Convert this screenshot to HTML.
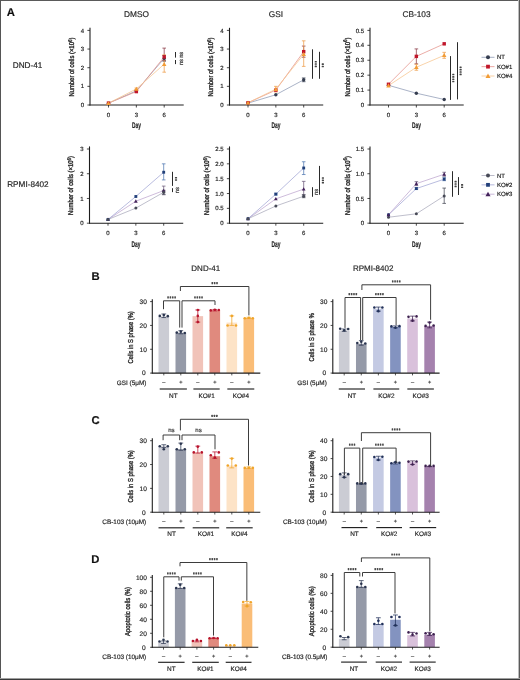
<!DOCTYPE html>
<html><head><meta charset="utf-8"><style>
html,body{margin:0;padding:0;background:#fff;width:520px;height:680px;overflow:hidden}
svg{display:block;text-rendering:geometricPrecision}
text{stroke:#2a2a2a;stroke-width:0.18px}
</style></head><body>
<svg width="520" height="680" viewBox="0 0 520 680" font-family="&quot;Liberation Sans&quot;, sans-serif">
<rect x="0" y="0" width="520" height="680" fill="#fff"/>
<defs><filter id="bl" x="-5%" y="-5%" width="110%" height="110%"><feGaussianBlur stdDeviation="0.3"/></filter></defs>
<g filter="url(#bl)">
<text x="10.80" y="12.30" dy="0.35em" font-size="11.3" text-anchor="middle" font-weight="bold" fill="#111">A</text>
<text x="95.50" y="275.70" dy="0.35em" font-size="11.3" text-anchor="middle" font-weight="bold" fill="#111">B</text>
<text x="95.60" y="419.90" dy="0.35em" font-size="11.3" text-anchor="middle" font-weight="bold" fill="#111">C</text>
<text x="95.30" y="559.20" dy="0.35em" font-size="11.3" text-anchor="middle" font-weight="bold" fill="#111">D</text>
<text x="136.50" y="14.00" dy="0.35em" font-size="8.3" text-anchor="middle" fill="#262626">DMSO</text>
<text x="276.00" y="14.00" dy="0.35em" font-size="8.3" text-anchor="middle" fill="#262626">GSI</text>
<text x="416.50" y="14.00" dy="0.35em" font-size="8.3" text-anchor="middle" fill="#262626">CB-103</text>
<text x="12.80" y="65.00" dy="0.35em" font-size="8.2" text-anchor="start" fill="#262626">DND-41</text>
<text x="7.20" y="184.40" dy="0.35em" font-size="8.2" text-anchor="start" fill="#262626">RPMI-8402</text>
<line x1="90.00" y1="27.80" x2="90.00" y2="105.50" stroke="#1e1e1e" stroke-width="1.1"/>
<line x1="87.40" y1="105.00" x2="90.00" y2="105.00" stroke="#1e1e1e" stroke-width="0.8"/>
<text x="84.00" y="105.00" dy="0.35em" font-size="6.0" text-anchor="end" fill="#262626">0</text>
<line x1="87.40" y1="86.35" x2="90.00" y2="86.35" stroke="#1e1e1e" stroke-width="0.8"/>
<text x="84.00" y="86.35" dy="0.35em" font-size="6.0" text-anchor="end" fill="#262626">1</text>
<line x1="87.40" y1="67.70" x2="90.00" y2="67.70" stroke="#1e1e1e" stroke-width="0.8"/>
<text x="84.00" y="67.70" dy="0.35em" font-size="6.0" text-anchor="end" fill="#262626">2</text>
<line x1="87.40" y1="49.05" x2="90.00" y2="49.05" stroke="#1e1e1e" stroke-width="0.8"/>
<text x="84.00" y="49.05" dy="0.35em" font-size="6.0" text-anchor="end" fill="#262626">3</text>
<line x1="87.40" y1="30.40" x2="90.00" y2="30.40" stroke="#1e1e1e" stroke-width="0.8"/>
<text x="84.00" y="30.40" dy="0.35em" font-size="6.0" text-anchor="end" fill="#262626">4</text>
<line x1="89.50" y1="105.00" x2="183.70" y2="105.00" stroke="#1e1e1e" stroke-width="1.1"/>
<line x1="108.50" y1="105.00" x2="108.50" y2="107.50" stroke="#1e1e1e" stroke-width="0.8"/>
<text x="108.50" y="114.70" dy="0.35em" font-size="6.0" text-anchor="middle" fill="#262626">0</text>
<line x1="136.35" y1="105.00" x2="136.35" y2="107.50" stroke="#1e1e1e" stroke-width="0.8"/>
<text x="136.35" y="114.70" dy="0.35em" font-size="6.0" text-anchor="middle" fill="#262626">3</text>
<line x1="164.20" y1="105.00" x2="164.20" y2="107.50" stroke="#1e1e1e" stroke-width="0.8"/>
<text x="164.20" y="114.70" dy="0.35em" font-size="6.0" text-anchor="middle" fill="#262626">6</text>
<text x="136.40" y="124.90" dy="0.35em" font-size="8.4" text-anchor="middle" font-weight="bold" fill="#222" textLength="8.9" lengthAdjust="spacingAndGlyphs">Day</text>
<text x="71.50" y="67.10" dy="0.35em" font-size="7.1" font-weight="normal" style="stroke-width:0.35px" text-anchor="middle" fill="#222" transform="rotate(-90 71.50 67.10)" textLength="59" lengthAdjust="spacingAndGlyphs">Number of cells (×10<tspan dy="-2.4" font-size="5.4">6</tspan><tspan dy="2.4">)</tspan></text>
<polyline points="108.50,103.14 136.35,90.83 164.20,58.38" fill="none" stroke="#8e9ab4" stroke-width="0.75"/>
<polyline points="108.50,103.14 136.35,91.57 164.20,56.88" fill="none" stroke="#e4918a" stroke-width="0.75"/>
<polyline points="108.50,103.14 136.35,88.96 164.20,64.16" fill="none" stroke="#f7c48e" stroke-width="0.75"/>
<line x1="164.20" y1="55.58" x2="164.20" y2="61.17" stroke="#363d4f" stroke-width="0.75"/>
<line x1="162.40" y1="55.58" x2="166.00" y2="55.58" stroke="#363d4f" stroke-width="0.75"/>
<line x1="162.40" y1="61.17" x2="166.00" y2="61.17" stroke="#363d4f" stroke-width="0.75"/>
<line x1="164.20" y1="48.12" x2="164.20" y2="60.61" stroke="#8a3a44" stroke-width="0.75"/>
<line x1="162.40" y1="48.12" x2="166.00" y2="48.12" stroke="#8a3a44" stroke-width="0.75"/>
<line x1="162.40" y1="60.61" x2="166.00" y2="60.61" stroke="#8a3a44" stroke-width="0.75"/>
<line x1="136.35" y1="88.03" x2="136.35" y2="89.89" stroke="#ee9c48" stroke-width="0.75"/>
<line x1="134.55" y1="88.03" x2="138.15" y2="88.03" stroke="#ee9c48" stroke-width="0.75"/>
<line x1="134.55" y1="89.89" x2="138.15" y2="89.89" stroke="#ee9c48" stroke-width="0.75"/>
<line x1="164.20" y1="54.83" x2="164.20" y2="72.18" stroke="#ee9c48" stroke-width="0.75"/>
<line x1="162.40" y1="54.83" x2="166.00" y2="54.83" stroke="#ee9c48" stroke-width="0.75"/>
<line x1="162.40" y1="72.18" x2="166.00" y2="72.18" stroke="#ee9c48" stroke-width="0.75"/>
<circle cx="108.50" cy="103.14" r="1.70" fill="#363d4f"/>
<circle cx="136.35" cy="90.83" r="1.70" fill="#363d4f"/>
<circle cx="164.20" cy="58.38" r="1.70" fill="#363d4f"/>
<rect x="106.79" y="101.43" width="3.42" height="3.42" fill="#c0142a"/>
<rect x="134.64" y="89.86" width="3.42" height="3.42" fill="#c0142a"/>
<rect x="162.49" y="55.17" width="3.42" height="3.42" fill="#c0142a"/>
<polygon points="108.50,100.89 110.75,104.94 106.25,104.94" fill="#f29c36"/>
<polygon points="136.35,86.71 138.60,90.76 134.10,90.76" fill="#f29c36"/>
<polygon points="164.20,61.91 166.45,65.96 161.95,65.96" fill="#f29c36"/>
<line x1="175.50" y1="52.00" x2="175.50" y2="57.60" stroke="#2a2a2a" stroke-width="1.0"/>
<text x="180.60" y="54.80" dy="0.35em" font-size="5.8" text-anchor="middle" fill="#333" transform="rotate(-90 180.60 54.80)">ns</text>
<line x1="175.50" y1="60.00" x2="175.50" y2="64.10" stroke="#2a2a2a" stroke-width="1.0"/>
<text x="180.60" y="62.05" dy="0.35em" font-size="5.8" text-anchor="middle" fill="#333" transform="rotate(-90 180.60 62.05)">ns</text>
<line x1="229.50" y1="27.80" x2="229.50" y2="105.50" stroke="#1e1e1e" stroke-width="1.1"/>
<line x1="226.90" y1="105.00" x2="229.50" y2="105.00" stroke="#1e1e1e" stroke-width="0.8"/>
<text x="223.50" y="105.00" dy="0.35em" font-size="6.0" text-anchor="end" fill="#262626">0</text>
<line x1="226.90" y1="86.35" x2="229.50" y2="86.35" stroke="#1e1e1e" stroke-width="0.8"/>
<text x="223.50" y="86.35" dy="0.35em" font-size="6.0" text-anchor="end" fill="#262626">1</text>
<line x1="226.90" y1="67.70" x2="229.50" y2="67.70" stroke="#1e1e1e" stroke-width="0.8"/>
<text x="223.50" y="67.70" dy="0.35em" font-size="6.0" text-anchor="end" fill="#262626">2</text>
<line x1="226.90" y1="49.05" x2="229.50" y2="49.05" stroke="#1e1e1e" stroke-width="0.8"/>
<text x="223.50" y="49.05" dy="0.35em" font-size="6.0" text-anchor="end" fill="#262626">3</text>
<line x1="226.90" y1="30.40" x2="229.50" y2="30.40" stroke="#1e1e1e" stroke-width="0.8"/>
<text x="223.50" y="30.40" dy="0.35em" font-size="6.0" text-anchor="end" fill="#262626">4</text>
<line x1="229.00" y1="105.00" x2="323.20" y2="105.00" stroke="#1e1e1e" stroke-width="1.1"/>
<line x1="248.00" y1="105.00" x2="248.00" y2="107.50" stroke="#1e1e1e" stroke-width="0.8"/>
<text x="248.00" y="114.70" dy="0.35em" font-size="6.0" text-anchor="middle" fill="#262626">0</text>
<line x1="275.85" y1="105.00" x2="275.85" y2="107.50" stroke="#1e1e1e" stroke-width="0.8"/>
<text x="275.85" y="114.70" dy="0.35em" font-size="6.0" text-anchor="middle" fill="#262626">3</text>
<line x1="303.70" y1="105.00" x2="303.70" y2="107.50" stroke="#1e1e1e" stroke-width="0.8"/>
<text x="303.70" y="114.70" dy="0.35em" font-size="6.0" text-anchor="middle" fill="#262626">6</text>
<text x="275.90" y="124.90" dy="0.35em" font-size="8.4" text-anchor="middle" font-weight="bold" fill="#222" textLength="8.9" lengthAdjust="spacingAndGlyphs">Day</text>
<text x="211.00" y="67.10" dy="0.35em" font-size="7.1" font-weight="normal" style="stroke-width:0.35px" text-anchor="middle" fill="#222" transform="rotate(-90 211.00 67.10)" textLength="59" lengthAdjust="spacingAndGlyphs">Number of cells (×10<tspan dy="-2.4" font-size="5.4">6</tspan><tspan dy="2.4">)</tspan></text>
<polyline points="248.00,103.14 275.85,94.74 303.70,79.82" fill="none" stroke="#8e9ab4" stroke-width="0.75"/>
<polyline points="248.00,102.76 275.85,90.08 303.70,51.66" fill="none" stroke="#e4918a" stroke-width="0.75"/>
<polyline points="248.00,102.76 275.85,89.15 303.70,54.27" fill="none" stroke="#f7c48e" stroke-width="0.75"/>
<line x1="303.70" y1="77.96" x2="303.70" y2="81.69" stroke="#363d4f" stroke-width="0.75"/>
<line x1="301.90" y1="77.96" x2="305.50" y2="77.96" stroke="#363d4f" stroke-width="0.75"/>
<line x1="301.90" y1="81.69" x2="305.50" y2="81.69" stroke="#363d4f" stroke-width="0.75"/>
<line x1="303.70" y1="46.07" x2="303.70" y2="57.26" stroke="#8a3a44" stroke-width="0.75"/>
<line x1="301.90" y1="46.07" x2="305.50" y2="46.07" stroke="#8a3a44" stroke-width="0.75"/>
<line x1="301.90" y1="57.26" x2="305.50" y2="57.26" stroke="#8a3a44" stroke-width="0.75"/>
<line x1="275.85" y1="86.35" x2="275.85" y2="91.95" stroke="#ee9c48" stroke-width="0.75"/>
<line x1="274.05" y1="86.35" x2="277.65" y2="86.35" stroke="#ee9c48" stroke-width="0.75"/>
<line x1="274.05" y1="91.95" x2="277.65" y2="91.95" stroke="#ee9c48" stroke-width="0.75"/>
<line x1="303.70" y1="40.84" x2="303.70" y2="66.39" stroke="#ee9c48" stroke-width="0.75"/>
<line x1="301.90" y1="40.84" x2="305.50" y2="40.84" stroke="#ee9c48" stroke-width="0.75"/>
<line x1="301.90" y1="66.39" x2="305.50" y2="66.39" stroke="#ee9c48" stroke-width="0.75"/>
<circle cx="248.00" cy="103.14" r="1.70" fill="#363d4f"/>
<circle cx="275.85" cy="94.74" r="1.70" fill="#363d4f"/>
<circle cx="303.70" cy="79.82" r="1.70" fill="#363d4f"/>
<rect x="246.29" y="101.05" width="3.42" height="3.42" fill="#c0142a"/>
<rect x="274.14" y="88.37" width="3.42" height="3.42" fill="#c0142a"/>
<rect x="301.99" y="49.95" width="3.42" height="3.42" fill="#c0142a"/>
<polygon points="248.00,100.51 250.25,104.56 245.75,104.56" fill="#f29c36"/>
<polygon points="275.85,86.90 278.10,90.95 273.60,90.95" fill="#f29c36"/>
<polygon points="303.70,52.02 305.95,56.07 301.45,56.07" fill="#f29c36"/>
<line x1="312.50" y1="49.30" x2="312.50" y2="78.80" stroke="#2a2a2a" stroke-width="1.0"/>
<rect x="314.70" y="60.90" width="2.2" height="1.6" rx="0.5" fill="#444"/>
<rect x="314.70" y="63.25" width="2.2" height="1.6" rx="0.5" fill="#444"/>
<rect x="314.70" y="65.60" width="2.2" height="1.6" rx="0.5" fill="#444"/>
<line x1="319.50" y1="51.80" x2="319.50" y2="78.80" stroke="#2a2a2a" stroke-width="1.0"/>
<rect x="321.70" y="63.33" width="2.2" height="1.6" rx="0.5" fill="#444"/>
<rect x="321.70" y="65.67" width="2.2" height="1.6" rx="0.5" fill="#444"/>
<line x1="370.00" y1="27.80" x2="370.00" y2="105.50" stroke="#1e1e1e" stroke-width="1.1"/>
<line x1="367.40" y1="105.00" x2="370.00" y2="105.00" stroke="#1e1e1e" stroke-width="0.8"/>
<text x="364.00" y="105.00" dy="0.35em" font-size="6.0" text-anchor="end" fill="#262626">0</text>
<line x1="367.40" y1="90.08" x2="370.00" y2="90.08" stroke="#1e1e1e" stroke-width="0.8"/>
<text x="364.00" y="90.08" dy="0.35em" font-size="6.0" text-anchor="end" fill="#262626">0.1</text>
<line x1="367.40" y1="75.16" x2="370.00" y2="75.16" stroke="#1e1e1e" stroke-width="0.8"/>
<text x="364.00" y="75.16" dy="0.35em" font-size="6.0" text-anchor="end" fill="#262626">0.2</text>
<line x1="367.40" y1="60.24" x2="370.00" y2="60.24" stroke="#1e1e1e" stroke-width="0.8"/>
<text x="364.00" y="60.24" dy="0.35em" font-size="6.0" text-anchor="end" fill="#262626">0.3</text>
<line x1="367.40" y1="45.32" x2="370.00" y2="45.32" stroke="#1e1e1e" stroke-width="0.8"/>
<text x="364.00" y="45.32" dy="0.35em" font-size="6.0" text-anchor="end" fill="#262626">0.4</text>
<line x1="367.40" y1="30.40" x2="370.00" y2="30.40" stroke="#1e1e1e" stroke-width="0.8"/>
<text x="364.00" y="30.40" dy="0.35em" font-size="6.0" text-anchor="end" fill="#262626">0.5</text>
<line x1="369.50" y1="105.00" x2="463.70" y2="105.00" stroke="#1e1e1e" stroke-width="1.1"/>
<line x1="388.50" y1="105.00" x2="388.50" y2="107.50" stroke="#1e1e1e" stroke-width="0.8"/>
<text x="388.50" y="114.70" dy="0.35em" font-size="6.0" text-anchor="middle" fill="#262626">0</text>
<line x1="416.35" y1="105.00" x2="416.35" y2="107.50" stroke="#1e1e1e" stroke-width="0.8"/>
<text x="416.35" y="114.70" dy="0.35em" font-size="6.0" text-anchor="middle" fill="#262626">3</text>
<line x1="444.20" y1="105.00" x2="444.20" y2="107.50" stroke="#1e1e1e" stroke-width="0.8"/>
<text x="444.20" y="114.70" dy="0.35em" font-size="6.0" text-anchor="middle" fill="#262626">6</text>
<text x="416.40" y="124.90" dy="0.35em" font-size="8.4" text-anchor="middle" font-weight="bold" fill="#222" textLength="8.9" lengthAdjust="spacingAndGlyphs">Day</text>
<text x="347.20" y="67.10" dy="0.35em" font-size="7.1" font-weight="normal" style="stroke-width:0.35px" text-anchor="middle" fill="#222" transform="rotate(-90 347.20 67.10)" textLength="59" lengthAdjust="spacingAndGlyphs">Number of cells (×10<tspan dy="-2.4" font-size="5.4">6</tspan><tspan dy="2.4">)</tspan></text>
<polyline points="388.50,85.31 416.35,93.21 444.20,99.48" fill="none" stroke="#8e9ab4" stroke-width="0.75"/>
<polyline points="388.50,84.26 416.35,56.36 444.20,43.83" fill="none" stroke="#e4918a" stroke-width="0.75"/>
<polyline points="388.50,85.60 416.35,67.25 444.20,55.32" fill="none" stroke="#f7c48e" stroke-width="0.75"/>
<line x1="416.35" y1="48.90" x2="416.35" y2="63.82" stroke="#8a3a44" stroke-width="0.75"/>
<line x1="414.55" y1="48.90" x2="418.15" y2="48.90" stroke="#8a3a44" stroke-width="0.75"/>
<line x1="414.55" y1="63.82" x2="418.15" y2="63.82" stroke="#8a3a44" stroke-width="0.75"/>
<line x1="416.35" y1="64.27" x2="416.35" y2="70.24" stroke="#ee9c48" stroke-width="0.75"/>
<line x1="414.55" y1="64.27" x2="418.15" y2="64.27" stroke="#ee9c48" stroke-width="0.75"/>
<line x1="414.55" y1="70.24" x2="418.15" y2="70.24" stroke="#ee9c48" stroke-width="0.75"/>
<line x1="444.20" y1="52.33" x2="444.20" y2="58.30" stroke="#ee9c48" stroke-width="0.75"/>
<line x1="442.40" y1="52.33" x2="446.00" y2="52.33" stroke="#ee9c48" stroke-width="0.75"/>
<line x1="442.40" y1="58.30" x2="446.00" y2="58.30" stroke="#ee9c48" stroke-width="0.75"/>
<circle cx="388.50" cy="85.31" r="1.70" fill="#363d4f"/>
<circle cx="416.35" cy="93.21" r="1.70" fill="#363d4f"/>
<circle cx="444.20" cy="99.48" r="1.70" fill="#363d4f"/>
<rect x="386.79" y="82.55" width="3.42" height="3.42" fill="#c0142a"/>
<rect x="414.64" y="54.65" width="3.42" height="3.42" fill="#c0142a"/>
<rect x="442.49" y="42.12" width="3.42" height="3.42" fill="#c0142a"/>
<polygon points="388.50,83.35 390.75,87.40 386.25,87.40" fill="#f29c36"/>
<polygon points="416.35,65.00 418.60,69.05 414.10,69.05" fill="#f29c36"/>
<polygon points="444.20,53.07 446.45,57.12 441.95,57.12" fill="#f29c36"/>
<line x1="450.50" y1="56.10" x2="450.50" y2="99.90" stroke="#2a2a2a" stroke-width="1.0"/>
<rect x="452.20" y="73.67" width="2.2" height="1.6" rx="0.5" fill="#444"/>
<rect x="452.20" y="76.03" width="2.2" height="1.6" rx="0.5" fill="#444"/>
<rect x="452.20" y="78.38" width="2.2" height="1.6" rx="0.5" fill="#444"/>
<rect x="452.20" y="80.73" width="2.2" height="1.6" rx="0.5" fill="#444"/>
<line x1="457.50" y1="42.20" x2="457.50" y2="99.40" stroke="#2a2a2a" stroke-width="1.0"/>
<rect x="459.50" y="66.48" width="2.2" height="1.6" rx="0.5" fill="#444"/>
<rect x="459.50" y="68.83" width="2.2" height="1.6" rx="0.5" fill="#444"/>
<rect x="459.50" y="71.18" width="2.2" height="1.6" rx="0.5" fill="#444"/>
<rect x="459.50" y="73.53" width="2.2" height="1.6" rx="0.5" fill="#444"/>
<line x1="481.50" y1="57.30" x2="494.50" y2="57.30" stroke="#8e9ab4" stroke-width="0.8"/>
<circle cx="488.00" cy="57.30" r="2.00" fill="#363d4f"/>
<text x="496.90" y="57.30" dy="0.35em" font-size="6.0" text-anchor="start" fill="#222">NT</text>
<line x1="481.50" y1="66.65" x2="494.50" y2="66.65" stroke="#e4918a" stroke-width="0.8"/>
<rect x="486.10" y="64.75" width="3.80" height="3.80" fill="#c0142a"/>
<text x="496.90" y="66.65" dy="0.35em" font-size="6.0" text-anchor="start" fill="#222">KO#1</text>
<line x1="481.50" y1="76.00" x2="494.50" y2="76.00" stroke="#f7c48e" stroke-width="0.8"/>
<polygon points="488.00,73.50 490.50,78.00 485.50,78.00" fill="#f29c36"/>
<text x="496.90" y="76.00" dy="0.35em" font-size="6.0" text-anchor="start" fill="#222">KO#4</text>
<line x1="89.50" y1="146.40" x2="89.50" y2="223.70" stroke="#1e1e1e" stroke-width="1.1"/>
<line x1="86.90" y1="223.20" x2="89.50" y2="223.20" stroke="#1e1e1e" stroke-width="0.8"/>
<text x="83.50" y="223.20" dy="0.35em" font-size="6.0" text-anchor="end" fill="#262626">0</text>
<line x1="86.90" y1="198.47" x2="89.50" y2="198.47" stroke="#1e1e1e" stroke-width="0.8"/>
<text x="83.50" y="198.47" dy="0.35em" font-size="6.0" text-anchor="end" fill="#262626">1</text>
<line x1="86.90" y1="173.73" x2="89.50" y2="173.73" stroke="#1e1e1e" stroke-width="0.8"/>
<text x="83.50" y="173.73" dy="0.35em" font-size="6.0" text-anchor="end" fill="#262626">2</text>
<line x1="86.90" y1="149.00" x2="89.50" y2="149.00" stroke="#1e1e1e" stroke-width="0.8"/>
<text x="83.50" y="149.00" dy="0.35em" font-size="6.0" text-anchor="end" fill="#262626">3</text>
<line x1="89.00" y1="223.20" x2="183.20" y2="223.20" stroke="#1e1e1e" stroke-width="1.1"/>
<line x1="108.00" y1="223.20" x2="108.00" y2="225.70" stroke="#1e1e1e" stroke-width="0.8"/>
<text x="108.00" y="232.60" dy="0.35em" font-size="6.0" text-anchor="middle" fill="#262626">0</text>
<line x1="135.85" y1="223.20" x2="135.85" y2="225.70" stroke="#1e1e1e" stroke-width="0.8"/>
<text x="135.85" y="232.60" dy="0.35em" font-size="6.0" text-anchor="middle" fill="#262626">3</text>
<line x1="163.70" y1="223.20" x2="163.70" y2="225.70" stroke="#1e1e1e" stroke-width="0.8"/>
<text x="163.70" y="232.60" dy="0.35em" font-size="6.0" text-anchor="middle" fill="#262626">6</text>
<text x="135.90" y="243.60" dy="0.35em" font-size="8.4" text-anchor="middle" font-weight="bold" fill="#222" textLength="8.9" lengthAdjust="spacingAndGlyphs">Day</text>
<text x="71.00" y="185.50" dy="0.35em" font-size="7.1" font-weight="normal" style="stroke-width:0.35px" text-anchor="middle" fill="#222" transform="rotate(-90 71.00 185.50)" textLength="59" lengthAdjust="spacingAndGlyphs">Number of cells (×10<tspan dy="-2.4" font-size="5.4">6</tspan><tspan dy="2.4">)</tspan></text>
<polyline points="108.00,219.49 135.85,201.19 163.70,190.55" fill="none" stroke="#bda6cf" stroke-width="0.75"/>
<polyline points="108.00,219.49 135.85,196.49 163.70,172.25" fill="none" stroke="#a2a6d4" stroke-width="0.75"/>
<polyline points="108.00,219.49 135.85,208.11 163.70,192.28" fill="none" stroke="#a9a9bb" stroke-width="0.75"/>
<line x1="163.70" y1="186.10" x2="163.70" y2="194.76" stroke="#6a5a7a" stroke-width="0.75"/>
<line x1="161.90" y1="186.10" x2="165.50" y2="186.10" stroke="#6a5a7a" stroke-width="0.75"/>
<line x1="161.90" y1="194.76" x2="165.50" y2="194.76" stroke="#6a5a7a" stroke-width="0.75"/>
<line x1="163.70" y1="163.84" x2="163.70" y2="179.92" stroke="#4f78b2" stroke-width="0.75"/>
<line x1="161.90" y1="163.84" x2="165.50" y2="163.84" stroke="#4f78b2" stroke-width="0.75"/>
<line x1="161.90" y1="179.92" x2="165.50" y2="179.92" stroke="#4f78b2" stroke-width="0.75"/>
<line x1="163.70" y1="190.30" x2="163.70" y2="194.26" stroke="#474a56" stroke-width="0.75"/>
<line x1="161.90" y1="190.30" x2="165.50" y2="190.30" stroke="#474a56" stroke-width="0.75"/>
<line x1="161.90" y1="194.26" x2="165.50" y2="194.26" stroke="#474a56" stroke-width="0.75"/>
<polygon points="108.00,217.61 109.88,220.99 106.12,220.99" fill="#43205a"/>
<polygon points="135.85,199.31 137.72,202.69 133.97,202.69" fill="#43205a"/>
<polygon points="163.70,188.68 165.57,192.05 161.82,192.05" fill="#43205a"/>
<rect x="106.58" y="218.06" width="2.85" height="2.85" fill="#24407a"/>
<rect x="134.42" y="195.06" width="2.85" height="2.85" fill="#24407a"/>
<rect x="162.27" y="170.82" width="2.85" height="2.85" fill="#24407a"/>
<circle cx="108.00" cy="219.49" r="1.50" fill="#474a56"/>
<circle cx="135.85" cy="208.11" r="1.50" fill="#474a56"/>
<circle cx="163.70" cy="192.28" r="1.50" fill="#474a56"/>
<line x1="172.50" y1="171.80" x2="172.50" y2="185.90" stroke="#2a2a2a" stroke-width="1.0"/>
<rect x="174.90" y="176.88" width="2.2" height="1.6" rx="0.5" fill="#444"/>
<rect x="174.90" y="179.23" width="2.2" height="1.6" rx="0.5" fill="#444"/>
<line x1="172.50" y1="188.20" x2="172.50" y2="192.10" stroke="#2a2a2a" stroke-width="1.0"/>
<text x="177.20" y="190.15" dy="0.35em" font-size="5.8" text-anchor="middle" fill="#333" transform="rotate(-90 177.20 190.15)">ns</text>
<line x1="229.50" y1="146.40" x2="229.50" y2="223.70" stroke="#1e1e1e" stroke-width="1.1"/>
<line x1="226.90" y1="223.20" x2="229.50" y2="223.20" stroke="#1e1e1e" stroke-width="0.8"/>
<text x="223.50" y="223.20" dy="0.35em" font-size="6.0" text-anchor="end" fill="#262626">0</text>
<line x1="226.90" y1="208.36" x2="229.50" y2="208.36" stroke="#1e1e1e" stroke-width="0.8"/>
<text x="223.50" y="208.36" dy="0.35em" font-size="6.0" text-anchor="end" fill="#262626">0.5</text>
<line x1="226.90" y1="193.52" x2="229.50" y2="193.52" stroke="#1e1e1e" stroke-width="0.8"/>
<text x="223.50" y="193.52" dy="0.35em" font-size="6.0" text-anchor="end" fill="#262626">1.0</text>
<line x1="226.90" y1="178.68" x2="229.50" y2="178.68" stroke="#1e1e1e" stroke-width="0.8"/>
<text x="223.50" y="178.68" dy="0.35em" font-size="6.0" text-anchor="end" fill="#262626">1.5</text>
<line x1="226.90" y1="163.84" x2="229.50" y2="163.84" stroke="#1e1e1e" stroke-width="0.8"/>
<text x="223.50" y="163.84" dy="0.35em" font-size="6.0" text-anchor="end" fill="#262626">2.0</text>
<line x1="226.90" y1="149.00" x2="229.50" y2="149.00" stroke="#1e1e1e" stroke-width="0.8"/>
<text x="223.50" y="149.00" dy="0.35em" font-size="6.0" text-anchor="end" fill="#262626">2.5</text>
<line x1="229.00" y1="223.20" x2="323.20" y2="223.20" stroke="#1e1e1e" stroke-width="1.1"/>
<line x1="248.00" y1="223.20" x2="248.00" y2="225.70" stroke="#1e1e1e" stroke-width="0.8"/>
<text x="248.00" y="232.60" dy="0.35em" font-size="6.0" text-anchor="middle" fill="#262626">0</text>
<line x1="275.85" y1="223.20" x2="275.85" y2="225.70" stroke="#1e1e1e" stroke-width="0.8"/>
<text x="275.85" y="232.60" dy="0.35em" font-size="6.0" text-anchor="middle" fill="#262626">3</text>
<line x1="303.70" y1="223.20" x2="303.70" y2="225.70" stroke="#1e1e1e" stroke-width="0.8"/>
<text x="303.70" y="232.60" dy="0.35em" font-size="6.0" text-anchor="middle" fill="#262626">6</text>
<text x="275.90" y="243.60" dy="0.35em" font-size="8.4" text-anchor="middle" font-weight="bold" fill="#222" textLength="8.9" lengthAdjust="spacingAndGlyphs">Day</text>
<text x="206.70" y="185.50" dy="0.35em" font-size="7.1" font-weight="normal" style="stroke-width:0.35px" text-anchor="middle" fill="#222" transform="rotate(-90 206.70 185.50)" textLength="59" lengthAdjust="spacingAndGlyphs">Number of cells (×10<tspan dy="-2.4" font-size="5.4">6</tspan><tspan dy="2.4">)</tspan></text>
<polyline points="248.00,218.75 275.85,198.86 303.70,189.07" fill="none" stroke="#bda6cf" stroke-width="0.75"/>
<polyline points="248.00,218.75 275.85,194.11 303.70,168.00" fill="none" stroke="#a2a6d4" stroke-width="0.75"/>
<polyline points="248.00,218.75 275.85,205.99 303.70,196.19" fill="none" stroke="#a9a9bb" stroke-width="0.75"/>
<line x1="303.70" y1="181.35" x2="303.70" y2="195.00" stroke="#6a5a7a" stroke-width="0.75"/>
<line x1="301.90" y1="181.35" x2="305.50" y2="181.35" stroke="#6a5a7a" stroke-width="0.75"/>
<line x1="301.90" y1="195.00" x2="305.50" y2="195.00" stroke="#6a5a7a" stroke-width="0.75"/>
<line x1="275.85" y1="193.22" x2="275.85" y2="195.00" stroke="#4f78b2" stroke-width="0.75"/>
<line x1="274.05" y1="193.22" x2="277.65" y2="193.22" stroke="#4f78b2" stroke-width="0.75"/>
<line x1="274.05" y1="195.00" x2="277.65" y2="195.00" stroke="#4f78b2" stroke-width="0.75"/>
<line x1="303.70" y1="161.76" x2="303.70" y2="174.52" stroke="#4f78b2" stroke-width="0.75"/>
<line x1="301.90" y1="161.76" x2="305.50" y2="161.76" stroke="#4f78b2" stroke-width="0.75"/>
<line x1="301.90" y1="174.52" x2="305.50" y2="174.52" stroke="#4f78b2" stroke-width="0.75"/>
<line x1="303.70" y1="194.71" x2="303.70" y2="197.68" stroke="#474a56" stroke-width="0.75"/>
<line x1="301.90" y1="194.71" x2="305.50" y2="194.71" stroke="#474a56" stroke-width="0.75"/>
<line x1="301.90" y1="197.68" x2="305.50" y2="197.68" stroke="#474a56" stroke-width="0.75"/>
<polygon points="248.00,216.87 249.88,220.25 246.12,220.25" fill="#43205a"/>
<polygon points="275.85,196.99 277.73,200.36 273.98,200.36" fill="#43205a"/>
<polygon points="303.70,187.19 305.57,190.57 301.82,190.57" fill="#43205a"/>
<rect x="246.57" y="217.32" width="2.85" height="2.85" fill="#24407a"/>
<rect x="274.43" y="192.69" width="2.85" height="2.85" fill="#24407a"/>
<rect x="302.27" y="166.57" width="2.85" height="2.85" fill="#24407a"/>
<circle cx="248.00" cy="218.75" r="1.50" fill="#474a56"/>
<circle cx="275.85" cy="205.99" r="1.50" fill="#474a56"/>
<circle cx="303.70" cy="196.19" r="1.50" fill="#474a56"/>
<line x1="312.50" y1="187.20" x2="312.50" y2="196.80" stroke="#2a2a2a" stroke-width="1.0"/>
<text x="315.90" y="192.00" dy="0.35em" font-size="5.8" text-anchor="middle" fill="#333" transform="rotate(-90 315.90 192.00)">ns</text>
<line x1="319.50" y1="165.90" x2="319.50" y2="194.70" stroke="#2a2a2a" stroke-width="1.0"/>
<rect x="321.80" y="177.15" width="2.2" height="1.6" rx="0.5" fill="#444"/>
<rect x="321.80" y="179.50" width="2.2" height="1.6" rx="0.5" fill="#444"/>
<rect x="321.80" y="181.85" width="2.2" height="1.6" rx="0.5" fill="#444"/>
<line x1="370.00" y1="146.40" x2="370.00" y2="223.70" stroke="#1e1e1e" stroke-width="1.1"/>
<line x1="367.40" y1="223.20" x2="370.00" y2="223.20" stroke="#1e1e1e" stroke-width="0.8"/>
<text x="364.00" y="223.20" dy="0.35em" font-size="6.0" text-anchor="end" fill="#262626">0</text>
<line x1="367.40" y1="198.47" x2="370.00" y2="198.47" stroke="#1e1e1e" stroke-width="0.8"/>
<text x="364.00" y="198.47" dy="0.35em" font-size="6.0" text-anchor="end" fill="#262626">0.5</text>
<line x1="367.40" y1="173.73" x2="370.00" y2="173.73" stroke="#1e1e1e" stroke-width="0.8"/>
<text x="364.00" y="173.73" dy="0.35em" font-size="6.0" text-anchor="end" fill="#262626">1.0</text>
<line x1="367.40" y1="149.00" x2="370.00" y2="149.00" stroke="#1e1e1e" stroke-width="0.8"/>
<text x="364.00" y="149.00" dy="0.35em" font-size="6.0" text-anchor="end" fill="#262626">1.5</text>
<line x1="369.50" y1="223.20" x2="463.70" y2="223.20" stroke="#1e1e1e" stroke-width="1.1"/>
<line x1="388.50" y1="223.20" x2="388.50" y2="225.70" stroke="#1e1e1e" stroke-width="0.8"/>
<text x="388.50" y="232.60" dy="0.35em" font-size="6.0" text-anchor="middle" fill="#262626">0</text>
<line x1="416.35" y1="223.20" x2="416.35" y2="225.70" stroke="#1e1e1e" stroke-width="0.8"/>
<text x="416.35" y="232.60" dy="0.35em" font-size="6.0" text-anchor="middle" fill="#262626">3</text>
<line x1="444.20" y1="223.20" x2="444.20" y2="225.70" stroke="#1e1e1e" stroke-width="0.8"/>
<text x="444.20" y="232.60" dy="0.35em" font-size="6.0" text-anchor="middle" fill="#262626">6</text>
<text x="416.40" y="243.60" dy="0.35em" font-size="8.4" text-anchor="middle" font-weight="bold" fill="#222" textLength="8.9" lengthAdjust="spacingAndGlyphs">Day</text>
<text x="347.20" y="185.50" dy="0.35em" font-size="7.1" font-weight="normal" style="stroke-width:0.35px" text-anchor="middle" fill="#222" transform="rotate(-90 347.20 185.50)" textLength="59" lengthAdjust="spacingAndGlyphs">Number of cells (×10<tspan dy="-2.4" font-size="5.4">6</tspan><tspan dy="2.4">)</tspan></text>
<polyline points="388.50,217.26 416.35,213.80 444.20,195.99" fill="none" stroke="#a9a9bb" stroke-width="0.75"/>
<polyline points="388.50,214.79 416.35,188.57 444.20,179.17" fill="none" stroke="#a2a6d4" stroke-width="0.75"/>
<polyline points="388.50,214.79 416.35,183.63 444.20,174.23" fill="none" stroke="#bda6cf" stroke-width="0.75"/>
<line x1="444.20" y1="188.08" x2="444.20" y2="203.41" stroke="#474a56" stroke-width="0.75"/>
<line x1="442.40" y1="188.08" x2="446.00" y2="188.08" stroke="#474a56" stroke-width="0.75"/>
<line x1="442.40" y1="203.41" x2="446.00" y2="203.41" stroke="#474a56" stroke-width="0.75"/>
<line x1="416.35" y1="187.58" x2="416.35" y2="189.56" stroke="#4f78b2" stroke-width="0.75"/>
<line x1="414.55" y1="187.58" x2="418.15" y2="187.58" stroke="#4f78b2" stroke-width="0.75"/>
<line x1="414.55" y1="189.56" x2="418.15" y2="189.56" stroke="#4f78b2" stroke-width="0.75"/>
<line x1="444.20" y1="177.69" x2="444.20" y2="180.66" stroke="#4f78b2" stroke-width="0.75"/>
<line x1="442.40" y1="177.69" x2="446.00" y2="177.69" stroke="#4f78b2" stroke-width="0.75"/>
<line x1="442.40" y1="180.66" x2="446.00" y2="180.66" stroke="#4f78b2" stroke-width="0.75"/>
<line x1="416.35" y1="181.65" x2="416.35" y2="185.61" stroke="#6a5a7a" stroke-width="0.75"/>
<line x1="414.55" y1="181.65" x2="418.15" y2="181.65" stroke="#6a5a7a" stroke-width="0.75"/>
<line x1="414.55" y1="185.61" x2="418.15" y2="185.61" stroke="#6a5a7a" stroke-width="0.75"/>
<line x1="444.20" y1="172.25" x2="444.20" y2="176.21" stroke="#6a5a7a" stroke-width="0.75"/>
<line x1="442.40" y1="172.25" x2="446.00" y2="172.25" stroke="#6a5a7a" stroke-width="0.75"/>
<line x1="442.40" y1="176.21" x2="446.00" y2="176.21" stroke="#6a5a7a" stroke-width="0.75"/>
<circle cx="388.50" cy="217.26" r="1.50" fill="#474a56"/>
<circle cx="416.35" cy="213.80" r="1.50" fill="#474a56"/>
<circle cx="444.20" cy="195.99" r="1.50" fill="#474a56"/>
<rect x="387.07" y="213.37" width="2.85" height="2.85" fill="#24407a"/>
<rect x="414.93" y="187.15" width="2.85" height="2.85" fill="#24407a"/>
<rect x="442.77" y="177.75" width="2.85" height="2.85" fill="#24407a"/>
<polygon points="388.50,212.92 390.38,216.29 386.62,216.29" fill="#43205a"/>
<polygon points="416.35,181.75 418.23,185.13 414.48,185.13" fill="#43205a"/>
<polygon points="444.20,172.35 446.07,175.73 442.32,175.73" fill="#43205a"/>
<line x1="452.50" y1="171.20" x2="452.50" y2="196.80" stroke="#2a2a2a" stroke-width="1.0"/>
<rect x="454.50" y="180.85" width="2.2" height="1.6" rx="0.5" fill="#444"/>
<rect x="454.50" y="183.20" width="2.2" height="1.6" rx="0.5" fill="#444"/>
<rect x="454.50" y="185.55" width="2.2" height="1.6" rx="0.5" fill="#444"/>
<line x1="458.50" y1="177.10" x2="458.50" y2="195.00" stroke="#2a2a2a" stroke-width="1.0"/>
<rect x="461.00" y="184.07" width="2.2" height="1.6" rx="0.5" fill="#444"/>
<rect x="461.00" y="186.43" width="2.2" height="1.6" rx="0.5" fill="#444"/>
<line x1="481.50" y1="175.50" x2="494.50" y2="175.50" stroke="#a9a9bb" stroke-width="0.8"/>
<circle cx="488.00" cy="175.50" r="2.00" fill="#474a56"/>
<text x="496.90" y="175.50" dy="0.35em" font-size="6.0" text-anchor="start" fill="#222">NT</text>
<line x1="481.50" y1="184.85" x2="494.50" y2="184.85" stroke="#a2a6d4" stroke-width="0.8"/>
<rect x="486.10" y="182.95" width="3.80" height="3.80" fill="#24407a"/>
<text x="496.90" y="184.85" dy="0.35em" font-size="6.0" text-anchor="start" fill="#222">KO#2</text>
<line x1="481.50" y1="194.20" x2="494.50" y2="194.20" stroke="#bda6cf" stroke-width="0.8"/>
<polygon points="488.00,191.70 490.50,196.20 485.50,196.20" fill="#43205a"/>
<text x="496.90" y="194.20" dy="0.35em" font-size="6.0" text-anchor="start" fill="#222">KO#3</text>
<text x="205.80" y="268.00" dy="0.35em" font-size="8.0" text-anchor="middle" fill="#262626">DND-41</text>
<text x="373.20" y="268.00" dy="0.35em" font-size="8.0" text-anchor="middle" fill="#262626">RPMI-8402</text>
<rect x="158.50" y="316.38" width="10.6" height="56.72" fill="#cbccd4"/>
<rect x="175.50" y="332.82" width="10.6" height="40.28" fill="#959aa8"/>
<rect x="192.50" y="316.14" width="10.6" height="56.96" fill="#f1c3b9"/>
<rect x="209.50" y="310.18" width="10.6" height="62.92" fill="#e08a7e"/>
<rect x="226.50" y="322.57" width="10.6" height="50.53" fill="#fde3c7"/>
<rect x="243.50" y="318.05" width="10.6" height="55.06" fill="#fabd77"/>
<line x1="163.80" y1="313.99" x2="163.80" y2="317.57" stroke="#2c3650" stroke-width="0.75"/>
<line x1="161.40" y1="313.99" x2="166.20" y2="313.99" stroke="#2c3650" stroke-width="0.75"/>
<line x1="161.40" y1="317.57" x2="166.20" y2="317.57" stroke="#2c3650" stroke-width="0.75"/>
<circle cx="159.80" cy="315.90" r="1.3" fill="#2c3650"/>
<circle cx="163.80" cy="314.95" r="1.3" fill="#2c3650"/>
<circle cx="167.80" cy="316.14" r="1.3" fill="#2c3650"/>
<line x1="180.80" y1="330.68" x2="180.80" y2="333.78" stroke="#2c3650" stroke-width="0.75"/>
<line x1="178.40" y1="330.68" x2="183.20" y2="330.68" stroke="#2c3650" stroke-width="0.75"/>
<line x1="178.40" y1="333.78" x2="183.20" y2="333.78" stroke="#2c3650" stroke-width="0.75"/>
<circle cx="176.80" cy="332.58" r="1.3" fill="#2c3650"/>
<circle cx="180.80" cy="331.63" r="1.3" fill="#2c3650"/>
<circle cx="184.80" cy="333.06" r="1.3" fill="#2c3650"/>
<line x1="197.80" y1="309.94" x2="197.80" y2="322.10" stroke="#b8122c" stroke-width="0.75"/>
<line x1="195.40" y1="309.94" x2="200.20" y2="309.94" stroke="#b8122c" stroke-width="0.75"/>
<line x1="195.40" y1="322.10" x2="200.20" y2="322.10" stroke="#b8122c" stroke-width="0.75"/>
<circle cx="197.80" cy="309.94" r="1.3" fill="#b8122c"/>
<circle cx="197.80" cy="315.90" r="1.3" fill="#b8122c"/>
<circle cx="197.80" cy="322.10" r="1.3" fill="#b8122c"/>
<line x1="214.80" y1="309.47" x2="214.80" y2="310.90" stroke="#b8122c" stroke-width="0.75"/>
<line x1="212.40" y1="309.47" x2="217.20" y2="309.47" stroke="#b8122c" stroke-width="0.75"/>
<line x1="212.40" y1="310.90" x2="217.20" y2="310.90" stroke="#b8122c" stroke-width="0.75"/>
<circle cx="210.80" cy="310.42" r="1.3" fill="#b8122c"/>
<circle cx="214.80" cy="309.70" r="1.3" fill="#b8122c"/>
<circle cx="218.80" cy="309.94" r="1.3" fill="#b8122c"/>
<line x1="231.80" y1="315.90" x2="231.80" y2="325.43" stroke="#f0a52a" stroke-width="0.75"/>
<line x1="229.40" y1="315.90" x2="234.20" y2="315.90" stroke="#f0a52a" stroke-width="0.75"/>
<line x1="229.40" y1="325.43" x2="234.20" y2="325.43" stroke="#f0a52a" stroke-width="0.75"/>
<circle cx="227.60" cy="325.43" r="1.3" fill="#f0a52a"/>
<circle cx="231.80" cy="315.90" r="1.3" fill="#f0a52a"/>
<circle cx="236.00" cy="325.43" r="1.3" fill="#f0a52a"/>
<line x1="248.80" y1="317.33" x2="248.80" y2="318.52" stroke="#f0a52a" stroke-width="0.75"/>
<line x1="246.40" y1="317.33" x2="251.20" y2="317.33" stroke="#f0a52a" stroke-width="0.75"/>
<line x1="246.40" y1="318.52" x2="251.20" y2="318.52" stroke="#f0a52a" stroke-width="0.75"/>
<circle cx="244.80" cy="318.28" r="1.3" fill="#f0a52a"/>
<circle cx="248.80" cy="317.81" r="1.3" fill="#f0a52a"/>
<circle cx="252.80" cy="318.28" r="1.3" fill="#f0a52a"/>
<line x1="152.30" y1="299.20" x2="152.30" y2="373.60" stroke="#1e1e1e" stroke-width="1.1"/>
<line x1="150.10" y1="373.10" x2="152.30" y2="373.10" stroke="#1e1e1e" stroke-width="0.8"/>
<text x="145.60" y="373.10" dy="0.35em" font-size="6.6" text-anchor="end" fill="#262626">0</text>
<line x1="150.10" y1="349.27" x2="152.30" y2="349.27" stroke="#1e1e1e" stroke-width="0.8"/>
<text x="146.90" y="349.27" dy="0.35em" font-size="6.6" text-anchor="end" fill="#262626">10</text>
<line x1="150.10" y1="325.43" x2="152.30" y2="325.43" stroke="#1e1e1e" stroke-width="0.8"/>
<text x="146.90" y="325.43" dy="0.35em" font-size="6.6" text-anchor="end" fill="#262626">20</text>
<line x1="150.10" y1="301.60" x2="152.30" y2="301.60" stroke="#1e1e1e" stroke-width="0.8"/>
<text x="146.90" y="301.60" dy="0.35em" font-size="6.6" text-anchor="end" fill="#262626">30</text>
<line x1="151.80" y1="373.10" x2="260.30" y2="373.10" stroke="#1e1e1e" stroke-width="1.1"/>
<line x1="163.80" y1="373.10" x2="163.80" y2="375.40" stroke="#1e1e1e" stroke-width="0.75"/>
<text x="163.80" y="381.80" dy="0.35em" font-size="5.6" text-anchor="middle" fill="#262626">–</text>
<line x1="180.80" y1="373.10" x2="180.80" y2="375.40" stroke="#1e1e1e" stroke-width="0.75"/>
<text x="180.80" y="381.80" dy="0.35em" font-size="5.6" text-anchor="middle" fill="#262626">+</text>
<line x1="197.80" y1="373.10" x2="197.80" y2="375.40" stroke="#1e1e1e" stroke-width="0.75"/>
<text x="197.80" y="381.80" dy="0.35em" font-size="5.6" text-anchor="middle" fill="#262626">–</text>
<line x1="214.80" y1="373.10" x2="214.80" y2="375.40" stroke="#1e1e1e" stroke-width="0.75"/>
<text x="214.80" y="381.80" dy="0.35em" font-size="5.6" text-anchor="middle" fill="#262626">+</text>
<line x1="231.80" y1="373.10" x2="231.80" y2="375.40" stroke="#1e1e1e" stroke-width="0.75"/>
<text x="231.80" y="381.80" dy="0.35em" font-size="5.6" text-anchor="middle" fill="#262626">–</text>
<line x1="248.80" y1="373.10" x2="248.80" y2="375.40" stroke="#1e1e1e" stroke-width="0.75"/>
<text x="248.80" y="381.80" dy="0.35em" font-size="5.6" text-anchor="middle" fill="#262626">+</text>
<text x="146.40" y="382.50" dy="0.35em" font-size="6.4" text-anchor="end" fill="#262626">GSI (5μM)</text>
<line x1="159.70" y1="389.00" x2="186.90" y2="389.00" stroke="#222" stroke-width="1.15"/>
<text x="173.30" y="395.40" dy="0.35em" font-size="6.4" text-anchor="middle" fill="#262626">NT</text>
<line x1="193.40" y1="389.00" x2="219.70" y2="389.00" stroke="#222" stroke-width="1.15"/>
<text x="206.55" y="395.40" dy="0.35em" font-size="6.4" text-anchor="middle" fill="#262626">KO#1</text>
<line x1="227.30" y1="389.00" x2="254.30" y2="389.00" stroke="#222" stroke-width="1.15"/>
<text x="240.80" y="395.40" dy="0.35em" font-size="6.4" text-anchor="middle" fill="#262626">KO#4</text>
<text x="130.60" y="337.35" dy="0.35em" font-size="7.1" font-weight="normal" style="stroke-width:0.35px" text-anchor="middle" fill="#222" transform="rotate(-90 130.60 337.35)" textLength="52.3" lengthAdjust="spacingAndGlyphs">Cells in S phase (%)</text>
<polyline points="163.50,309.20 163.50,300.80 179.70,300.80 179.70,327.60" fill="none" stroke="#333" stroke-width="0.95"/>
<rect x="167.27" y="296.30" width="1.6" height="2.2" rx="0.5" fill="#484848"/>
<rect x="169.62" y="296.30" width="1.6" height="2.2" rx="0.5" fill="#484848"/>
<rect x="171.97" y="296.30" width="1.6" height="2.2" rx="0.5" fill="#484848"/>
<rect x="174.32" y="296.30" width="1.6" height="2.2" rx="0.5" fill="#484848"/>
<polyline points="182.00,327.60 182.00,300.80 215.00,300.80 215.00,305.00" fill="none" stroke="#333" stroke-width="0.95"/>
<rect x="194.17" y="296.30" width="1.6" height="2.2" rx="0.5" fill="#484848"/>
<rect x="196.52" y="296.30" width="1.6" height="2.2" rx="0.5" fill="#484848"/>
<rect x="198.88" y="296.30" width="1.6" height="2.2" rx="0.5" fill="#484848"/>
<rect x="201.22" y="296.30" width="1.6" height="2.2" rx="0.5" fill="#484848"/>
<polyline points="180.40,291.00 180.40,286.50 248.90,286.50 248.90,315.40" fill="none" stroke="#333" stroke-width="0.95"/>
<rect x="211.50" y="282.00" width="1.6" height="2.2" rx="0.5" fill="#484848"/>
<rect x="213.85" y="282.00" width="1.6" height="2.2" rx="0.5" fill="#484848"/>
<rect x="216.20" y="282.00" width="1.6" height="2.2" rx="0.5" fill="#484848"/>
<rect x="338.90" y="330.44" width="10.6" height="42.66" fill="#cbccd4"/>
<rect x="355.98" y="343.79" width="10.6" height="29.31" fill="#959aa8"/>
<rect x="373.06" y="308.75" width="10.6" height="64.35" fill="#c4cae3"/>
<rect x="390.14" y="326.86" width="10.6" height="46.24" fill="#8393c0"/>
<rect x="407.22" y="318.52" width="10.6" height="54.58" fill="#d9c1db"/>
<rect x="424.30" y="325.91" width="10.6" height="47.19" fill="#a582ae"/>
<line x1="344.20" y1="329.01" x2="344.20" y2="331.39" stroke="#2c3650" stroke-width="0.75"/>
<line x1="341.80" y1="329.01" x2="346.60" y2="329.01" stroke="#2c3650" stroke-width="0.75"/>
<line x1="341.80" y1="331.39" x2="346.60" y2="331.39" stroke="#2c3650" stroke-width="0.75"/>
<circle cx="340.20" cy="328.77" r="1.3" fill="#2c3650"/>
<circle cx="344.20" cy="330.20" r="1.3" fill="#2c3650"/>
<circle cx="348.20" cy="329.01" r="1.3" fill="#2c3650"/>
<line x1="361.28" y1="340.69" x2="361.28" y2="345.22" stroke="#2c3650" stroke-width="0.75"/>
<line x1="358.88" y1="340.69" x2="363.68" y2="340.69" stroke="#2c3650" stroke-width="0.75"/>
<line x1="358.88" y1="345.22" x2="363.68" y2="345.22" stroke="#2c3650" stroke-width="0.75"/>
<circle cx="357.28" cy="343.07" r="1.3" fill="#2c3650"/>
<circle cx="361.28" cy="341.64" r="1.3" fill="#2c3650"/>
<circle cx="365.28" cy="343.55" r="1.3" fill="#2c3650"/>
<line x1="378.36" y1="307.08" x2="378.36" y2="311.13" stroke="#22305a" stroke-width="0.75"/>
<line x1="375.96" y1="307.08" x2="380.76" y2="307.08" stroke="#22305a" stroke-width="0.75"/>
<line x1="375.96" y1="311.13" x2="380.76" y2="311.13" stroke="#22305a" stroke-width="0.75"/>
<circle cx="374.36" cy="307.56" r="1.3" fill="#22305a"/>
<circle cx="378.36" cy="311.13" r="1.3" fill="#22305a"/>
<circle cx="382.36" cy="307.56" r="1.3" fill="#22305a"/>
<line x1="395.44" y1="325.91" x2="395.44" y2="327.82" stroke="#22305a" stroke-width="0.75"/>
<line x1="393.04" y1="325.91" x2="397.84" y2="325.91" stroke="#22305a" stroke-width="0.75"/>
<line x1="393.04" y1="327.82" x2="397.84" y2="327.82" stroke="#22305a" stroke-width="0.75"/>
<circle cx="391.44" cy="326.39" r="1.3" fill="#22305a"/>
<circle cx="395.44" cy="327.82" r="1.3" fill="#22305a"/>
<circle cx="399.44" cy="326.15" r="1.3" fill="#22305a"/>
<line x1="412.52" y1="316.14" x2="412.52" y2="320.91" stroke="#3e2050" stroke-width="0.75"/>
<line x1="410.12" y1="316.14" x2="414.92" y2="316.14" stroke="#3e2050" stroke-width="0.75"/>
<line x1="410.12" y1="320.91" x2="414.92" y2="320.91" stroke="#3e2050" stroke-width="0.75"/>
<circle cx="408.52" cy="316.85" r="1.3" fill="#3e2050"/>
<circle cx="412.52" cy="320.67" r="1.3" fill="#3e2050"/>
<circle cx="416.52" cy="316.38" r="1.3" fill="#3e2050"/>
<line x1="429.60" y1="322.10" x2="429.60" y2="327.82" stroke="#3e2050" stroke-width="0.75"/>
<line x1="427.20" y1="322.10" x2="432.00" y2="322.10" stroke="#3e2050" stroke-width="0.75"/>
<line x1="427.20" y1="327.82" x2="432.00" y2="327.82" stroke="#3e2050" stroke-width="0.75"/>
<circle cx="425.60" cy="325.91" r="1.3" fill="#3e2050"/>
<circle cx="429.60" cy="322.57" r="1.3" fill="#3e2050"/>
<circle cx="433.60" cy="325.43" r="1.3" fill="#3e2050"/>
<line x1="332.80" y1="299.20" x2="332.80" y2="373.60" stroke="#1e1e1e" stroke-width="1.1"/>
<line x1="330.60" y1="373.10" x2="332.80" y2="373.10" stroke="#1e1e1e" stroke-width="0.8"/>
<text x="326.10" y="373.10" dy="0.35em" font-size="6.6" text-anchor="end" fill="#262626">0</text>
<line x1="330.60" y1="349.27" x2="332.80" y2="349.27" stroke="#1e1e1e" stroke-width="0.8"/>
<text x="327.40" y="349.27" dy="0.35em" font-size="6.6" text-anchor="end" fill="#262626">10</text>
<line x1="330.60" y1="325.43" x2="332.80" y2="325.43" stroke="#1e1e1e" stroke-width="0.8"/>
<text x="327.40" y="325.43" dy="0.35em" font-size="6.6" text-anchor="end" fill="#262626">20</text>
<line x1="330.60" y1="301.60" x2="332.80" y2="301.60" stroke="#1e1e1e" stroke-width="0.8"/>
<text x="327.40" y="301.60" dy="0.35em" font-size="6.6" text-anchor="end" fill="#262626">30</text>
<line x1="332.30" y1="373.10" x2="439.60" y2="373.10" stroke="#1e1e1e" stroke-width="1.1"/>
<line x1="344.20" y1="373.10" x2="344.20" y2="375.40" stroke="#1e1e1e" stroke-width="0.75"/>
<text x="344.20" y="381.80" dy="0.35em" font-size="5.6" text-anchor="middle" fill="#262626">–</text>
<line x1="361.28" y1="373.10" x2="361.28" y2="375.40" stroke="#1e1e1e" stroke-width="0.75"/>
<text x="361.28" y="381.80" dy="0.35em" font-size="5.6" text-anchor="middle" fill="#262626">+</text>
<line x1="378.36" y1="373.10" x2="378.36" y2="375.40" stroke="#1e1e1e" stroke-width="0.75"/>
<text x="378.36" y="381.80" dy="0.35em" font-size="5.6" text-anchor="middle" fill="#262626">–</text>
<line x1="395.44" y1="373.10" x2="395.44" y2="375.40" stroke="#1e1e1e" stroke-width="0.75"/>
<text x="395.44" y="381.80" dy="0.35em" font-size="5.6" text-anchor="middle" fill="#262626">+</text>
<line x1="412.52" y1="373.10" x2="412.52" y2="375.40" stroke="#1e1e1e" stroke-width="0.75"/>
<text x="412.52" y="381.80" dy="0.35em" font-size="5.6" text-anchor="middle" fill="#262626">–</text>
<line x1="429.60" y1="373.10" x2="429.60" y2="375.40" stroke="#1e1e1e" stroke-width="0.75"/>
<text x="429.60" y="381.80" dy="0.35em" font-size="5.6" text-anchor="middle" fill="#262626">+</text>
<text x="326.80" y="382.50" dy="0.35em" font-size="6.4" text-anchor="end" fill="#262626">GSI (5μM)</text>
<line x1="338.80" y1="389.00" x2="365.00" y2="389.00" stroke="#222" stroke-width="1.15"/>
<text x="351.90" y="395.40" dy="0.35em" font-size="6.4" text-anchor="middle" fill="#262626">NT</text>
<line x1="373.40" y1="389.00" x2="399.20" y2="389.00" stroke="#222" stroke-width="1.15"/>
<text x="386.30" y="395.40" dy="0.35em" font-size="6.4" text-anchor="middle" fill="#262626">KO#2</text>
<line x1="407.30" y1="389.00" x2="433.90" y2="389.00" stroke="#222" stroke-width="1.15"/>
<text x="420.60" y="395.40" dy="0.35em" font-size="6.4" text-anchor="middle" fill="#262626">KO#3</text>
<text x="311.10" y="337.35" dy="0.35em" font-size="7.1" font-weight="normal" style="stroke-width:0.35px" text-anchor="middle" fill="#222" transform="rotate(-90 311.10 337.35)" textLength="48.3" lengthAdjust="spacingAndGlyphs">Cells in S phase %</text>
<polyline points="345.00,327.90 345.00,297.50 360.60,297.50 360.60,340.00" fill="none" stroke="#333" stroke-width="0.95"/>
<rect x="348.48" y="293.00" width="1.6" height="2.2" rx="0.5" fill="#484848"/>
<rect x="350.82" y="293.00" width="1.6" height="2.2" rx="0.5" fill="#484848"/>
<rect x="353.18" y="293.00" width="1.6" height="2.2" rx="0.5" fill="#484848"/>
<rect x="355.52" y="293.00" width="1.6" height="2.2" rx="0.5" fill="#484848"/>
<polyline points="362.70,340.00 362.70,297.50 396.10,297.50 396.10,325.20" fill="none" stroke="#333" stroke-width="0.95"/>
<rect x="375.07" y="293.00" width="1.6" height="2.2" rx="0.5" fill="#484848"/>
<rect x="377.42" y="293.00" width="1.6" height="2.2" rx="0.5" fill="#484848"/>
<rect x="379.77" y="293.00" width="1.6" height="2.2" rx="0.5" fill="#484848"/>
<rect x="382.12" y="293.00" width="1.6" height="2.2" rx="0.5" fill="#484848"/>
<polyline points="361.90,290.00 361.90,284.80 430.60,284.80 430.60,319.80" fill="none" stroke="#333" stroke-width="0.95"/>
<rect x="391.93" y="280.30" width="1.6" height="2.2" rx="0.5" fill="#484848"/>
<rect x="394.27" y="280.30" width="1.6" height="2.2" rx="0.5" fill="#484848"/>
<rect x="396.62" y="280.30" width="1.6" height="2.2" rx="0.5" fill="#484848"/>
<rect x="398.97" y="280.30" width="1.6" height="2.2" rx="0.5" fill="#484848"/>
<rect x="158.50" y="446.42" width="10.6" height="65.78" fill="#cbccd4"/>
<rect x="175.50" y="449.28" width="10.6" height="62.92" fill="#959aa8"/>
<rect x="192.50" y="452.38" width="10.6" height="59.82" fill="#f1c3b9"/>
<rect x="209.50" y="456.19" width="10.6" height="56.01" fill="#e08a7e"/>
<rect x="226.50" y="465.49" width="10.6" height="46.71" fill="#fde3c7"/>
<rect x="243.50" y="467.87" width="10.6" height="44.33" fill="#fabd77"/>
<line x1="163.80" y1="444.75" x2="163.80" y2="447.61" stroke="#2c3650" stroke-width="0.75"/>
<line x1="161.40" y1="444.75" x2="166.20" y2="444.75" stroke="#2c3650" stroke-width="0.75"/>
<line x1="161.40" y1="447.61" x2="166.20" y2="447.61" stroke="#2c3650" stroke-width="0.75"/>
<circle cx="159.80" cy="446.18" r="1.3" fill="#2c3650"/>
<circle cx="163.80" cy="449.28" r="1.3" fill="#2c3650"/>
<circle cx="167.80" cy="446.18" r="1.3" fill="#2c3650"/>
<line x1="180.80" y1="443.08" x2="180.80" y2="450.23" stroke="#2c3650" stroke-width="0.75"/>
<line x1="178.40" y1="443.08" x2="183.20" y2="443.08" stroke="#2c3650" stroke-width="0.75"/>
<line x1="178.40" y1="450.23" x2="183.20" y2="450.23" stroke="#2c3650" stroke-width="0.75"/>
<circle cx="176.80" cy="449.28" r="1.3" fill="#2c3650"/>
<circle cx="180.80" cy="443.80" r="1.3" fill="#2c3650"/>
<circle cx="184.80" cy="449.28" r="1.3" fill="#2c3650"/>
<line x1="197.80" y1="446.18" x2="197.80" y2="453.09" stroke="#b8122c" stroke-width="0.75"/>
<line x1="195.40" y1="446.18" x2="200.20" y2="446.18" stroke="#b8122c" stroke-width="0.75"/>
<line x1="195.40" y1="453.09" x2="200.20" y2="453.09" stroke="#b8122c" stroke-width="0.75"/>
<circle cx="193.80" cy="452.38" r="1.3" fill="#b8122c"/>
<circle cx="197.80" cy="446.66" r="1.3" fill="#b8122c"/>
<circle cx="201.80" cy="452.38" r="1.3" fill="#b8122c"/>
<line x1="214.80" y1="451.90" x2="214.80" y2="458.34" stroke="#b8122c" stroke-width="0.75"/>
<line x1="212.40" y1="451.90" x2="217.20" y2="451.90" stroke="#b8122c" stroke-width="0.75"/>
<line x1="212.40" y1="458.34" x2="217.20" y2="458.34" stroke="#b8122c" stroke-width="0.75"/>
<circle cx="210.80" cy="455.24" r="1.3" fill="#b8122c"/>
<circle cx="214.80" cy="457.62" r="1.3" fill="#b8122c"/>
<circle cx="218.80" cy="452.38" r="1.3" fill="#b8122c"/>
<line x1="231.80" y1="458.34" x2="231.80" y2="467.87" stroke="#f0a52a" stroke-width="0.75"/>
<line x1="229.40" y1="458.34" x2="234.20" y2="458.34" stroke="#f0a52a" stroke-width="0.75"/>
<line x1="229.40" y1="467.87" x2="234.20" y2="467.87" stroke="#f0a52a" stroke-width="0.75"/>
<circle cx="227.80" cy="465.49" r="1.3" fill="#f0a52a"/>
<circle cx="231.80" cy="458.58" r="1.3" fill="#f0a52a"/>
<circle cx="235.80" cy="465.49" r="1.3" fill="#f0a52a"/>
<line x1="248.80" y1="466.92" x2="248.80" y2="468.35" stroke="#f0a52a" stroke-width="0.75"/>
<line x1="246.40" y1="466.92" x2="251.20" y2="466.92" stroke="#f0a52a" stroke-width="0.75"/>
<line x1="246.40" y1="468.35" x2="251.20" y2="468.35" stroke="#f0a52a" stroke-width="0.75"/>
<circle cx="244.80" cy="467.87" r="1.3" fill="#f0a52a"/>
<circle cx="248.80" cy="467.87" r="1.3" fill="#f0a52a"/>
<circle cx="252.80" cy="467.87" r="1.3" fill="#f0a52a"/>
<line x1="152.30" y1="438.30" x2="152.30" y2="512.70" stroke="#1e1e1e" stroke-width="1.1"/>
<line x1="150.10" y1="512.20" x2="152.30" y2="512.20" stroke="#1e1e1e" stroke-width="0.8"/>
<text x="145.60" y="512.20" dy="0.35em" font-size="6.6" text-anchor="end" fill="#262626">0</text>
<line x1="150.10" y1="488.37" x2="152.30" y2="488.37" stroke="#1e1e1e" stroke-width="0.8"/>
<text x="146.90" y="488.37" dy="0.35em" font-size="6.6" text-anchor="end" fill="#262626">10</text>
<line x1="150.10" y1="464.53" x2="152.30" y2="464.53" stroke="#1e1e1e" stroke-width="0.8"/>
<text x="146.90" y="464.53" dy="0.35em" font-size="6.6" text-anchor="end" fill="#262626">20</text>
<line x1="150.10" y1="440.70" x2="152.30" y2="440.70" stroke="#1e1e1e" stroke-width="0.8"/>
<text x="146.90" y="440.70" dy="0.35em" font-size="6.6" text-anchor="end" fill="#262626">30</text>
<line x1="151.80" y1="512.20" x2="260.30" y2="512.20" stroke="#1e1e1e" stroke-width="1.1"/>
<line x1="163.80" y1="512.20" x2="163.80" y2="514.50" stroke="#1e1e1e" stroke-width="0.75"/>
<text x="163.80" y="520.90" dy="0.35em" font-size="5.6" text-anchor="middle" fill="#262626">–</text>
<line x1="180.80" y1="512.20" x2="180.80" y2="514.50" stroke="#1e1e1e" stroke-width="0.75"/>
<text x="180.80" y="520.90" dy="0.35em" font-size="5.6" text-anchor="middle" fill="#262626">+</text>
<line x1="197.80" y1="512.20" x2="197.80" y2="514.50" stroke="#1e1e1e" stroke-width="0.75"/>
<text x="197.80" y="520.90" dy="0.35em" font-size="5.6" text-anchor="middle" fill="#262626">–</text>
<line x1="214.80" y1="512.20" x2="214.80" y2="514.50" stroke="#1e1e1e" stroke-width="0.75"/>
<text x="214.80" y="520.90" dy="0.35em" font-size="5.6" text-anchor="middle" fill="#262626">+</text>
<line x1="231.80" y1="512.20" x2="231.80" y2="514.50" stroke="#1e1e1e" stroke-width="0.75"/>
<text x="231.80" y="520.90" dy="0.35em" font-size="5.6" text-anchor="middle" fill="#262626">–</text>
<line x1="248.80" y1="512.20" x2="248.80" y2="514.50" stroke="#1e1e1e" stroke-width="0.75"/>
<text x="248.80" y="520.90" dy="0.35em" font-size="5.6" text-anchor="middle" fill="#262626">+</text>
<text x="146.20" y="521.60" dy="0.35em" font-size="6.4" text-anchor="end" fill="#262626">CB-103 (10μM)</text>
<line x1="158.50" y1="527.80" x2="184.60" y2="527.80" stroke="#222" stroke-width="1.15"/>
<text x="171.55" y="534.00" dy="0.35em" font-size="6.4" text-anchor="middle" fill="#262626">NT</text>
<line x1="192.70" y1="527.80" x2="219.20" y2="527.80" stroke="#222" stroke-width="1.15"/>
<text x="205.95" y="534.00" dy="0.35em" font-size="6.4" text-anchor="middle" fill="#262626">KO#1</text>
<line x1="226.20" y1="527.80" x2="252.70" y2="527.80" stroke="#222" stroke-width="1.15"/>
<text x="239.45" y="534.00" dy="0.35em" font-size="6.4" text-anchor="middle" fill="#262626">KO#4</text>
<text x="130.60" y="476.45" dy="0.35em" font-size="7.1" font-weight="normal" style="stroke-width:0.35px" text-anchor="middle" fill="#222" transform="rotate(-90 130.60 476.45)" textLength="52.3" lengthAdjust="spacingAndGlyphs">Cells in S phase (%)</text>
<polyline points="163.10,440.20 163.10,435.00 179.70,435.00 179.70,440.20" fill="none" stroke="#333" stroke-width="0.95"/>
<text x="171.40" y="430.00" dy="0.35em" font-size="6.0" text-anchor="middle" fill="#333">ns</text>
<polyline points="182.00,440.20 182.00,435.00 215.00,435.00 215.00,449.30" fill="none" stroke="#333" stroke-width="0.95"/>
<text x="198.50" y="430.00" dy="0.35em" font-size="6.0" text-anchor="middle" fill="#333">ns</text>
<polyline points="180.40,430.40 180.40,419.30 248.50,419.30 248.50,465.50" fill="none" stroke="#333" stroke-width="0.95"/>
<rect x="211.30" y="414.80" width="1.6" height="2.2" rx="0.5" fill="#484848"/>
<rect x="213.65" y="414.80" width="1.6" height="2.2" rx="0.5" fill="#484848"/>
<rect x="216.00" y="414.80" width="1.6" height="2.2" rx="0.5" fill="#484848"/>
<rect x="338.90" y="475.02" width="10.6" height="37.18" fill="#cbccd4"/>
<rect x="355.98" y="483.96" width="10.6" height="28.24" fill="#959aa8"/>
<rect x="373.06" y="457.68" width="10.6" height="54.52" fill="#c4cae3"/>
<rect x="390.14" y="463.40" width="10.6" height="48.80" fill="#8393c0"/>
<rect x="407.22" y="461.97" width="10.6" height="50.23" fill="#d9c1db"/>
<rect x="424.30" y="466.44" width="10.6" height="45.76" fill="#a582ae"/>
<line x1="344.20" y1="472.88" x2="344.20" y2="477.34" stroke="#2c3650" stroke-width="0.75"/>
<line x1="341.80" y1="472.88" x2="346.60" y2="472.88" stroke="#2c3650" stroke-width="0.75"/>
<line x1="341.80" y1="477.34" x2="346.60" y2="477.34" stroke="#2c3650" stroke-width="0.75"/>
<circle cx="340.20" cy="474.13" r="1.3" fill="#2c3650"/>
<circle cx="344.20" cy="477.34" r="1.3" fill="#2c3650"/>
<circle cx="348.20" cy="474.13" r="1.3" fill="#2c3650"/>
<line x1="361.28" y1="483.60" x2="361.28" y2="484.32" stroke="#2c3650" stroke-width="0.75"/>
<line x1="358.88" y1="483.60" x2="363.68" y2="483.60" stroke="#2c3650" stroke-width="0.75"/>
<line x1="358.88" y1="484.32" x2="363.68" y2="484.32" stroke="#2c3650" stroke-width="0.75"/>
<circle cx="357.28" cy="483.42" r="1.3" fill="#2c3650"/>
<circle cx="361.28" cy="483.42" r="1.3" fill="#2c3650"/>
<circle cx="365.28" cy="483.42" r="1.3" fill="#2c3650"/>
<line x1="378.36" y1="456.25" x2="378.36" y2="460.01" stroke="#22305a" stroke-width="0.75"/>
<line x1="375.96" y1="456.25" x2="380.76" y2="456.25" stroke="#22305a" stroke-width="0.75"/>
<line x1="375.96" y1="460.01" x2="380.76" y2="460.01" stroke="#22305a" stroke-width="0.75"/>
<circle cx="374.36" cy="456.97" r="1.3" fill="#22305a"/>
<circle cx="378.36" cy="460.01" r="1.3" fill="#22305a"/>
<circle cx="382.36" cy="456.79" r="1.3" fill="#22305a"/>
<line x1="395.44" y1="462.33" x2="395.44" y2="463.94" stroke="#22305a" stroke-width="0.75"/>
<line x1="393.04" y1="462.33" x2="397.84" y2="462.33" stroke="#22305a" stroke-width="0.75"/>
<line x1="393.04" y1="463.94" x2="397.84" y2="463.94" stroke="#22305a" stroke-width="0.75"/>
<circle cx="391.44" cy="463.22" r="1.3" fill="#22305a"/>
<circle cx="395.44" cy="462.15" r="1.3" fill="#22305a"/>
<circle cx="399.44" cy="462.87" r="1.3" fill="#22305a"/>
<line x1="412.52" y1="460.90" x2="412.52" y2="464.47" stroke="#3e2050" stroke-width="0.75"/>
<line x1="410.12" y1="460.90" x2="414.92" y2="460.90" stroke="#3e2050" stroke-width="0.75"/>
<line x1="410.12" y1="464.47" x2="414.92" y2="464.47" stroke="#3e2050" stroke-width="0.75"/>
<circle cx="408.52" cy="461.61" r="1.3" fill="#3e2050"/>
<circle cx="412.52" cy="464.47" r="1.3" fill="#3e2050"/>
<circle cx="416.52" cy="461.44" r="1.3" fill="#3e2050"/>
<line x1="429.60" y1="466.26" x2="429.60" y2="466.62" stroke="#3e2050" stroke-width="0.75"/>
<line x1="427.20" y1="466.26" x2="432.00" y2="466.26" stroke="#3e2050" stroke-width="0.75"/>
<line x1="427.20" y1="466.62" x2="432.00" y2="466.62" stroke="#3e2050" stroke-width="0.75"/>
<circle cx="425.60" cy="465.90" r="1.3" fill="#3e2050"/>
<circle cx="429.60" cy="465.90" r="1.3" fill="#3e2050"/>
<circle cx="433.60" cy="465.90" r="1.3" fill="#3e2050"/>
<line x1="332.80" y1="438.30" x2="332.80" y2="512.70" stroke="#1e1e1e" stroke-width="1.1"/>
<line x1="330.60" y1="512.20" x2="332.80" y2="512.20" stroke="#1e1e1e" stroke-width="0.8"/>
<text x="326.10" y="512.20" dy="0.35em" font-size="6.6" text-anchor="end" fill="#262626">0</text>
<line x1="330.60" y1="494.33" x2="332.80" y2="494.33" stroke="#1e1e1e" stroke-width="0.8"/>
<text x="327.40" y="494.33" dy="0.35em" font-size="6.6" text-anchor="end" fill="#262626">10</text>
<line x1="330.60" y1="476.45" x2="332.80" y2="476.45" stroke="#1e1e1e" stroke-width="0.8"/>
<text x="327.40" y="476.45" dy="0.35em" font-size="6.6" text-anchor="end" fill="#262626">20</text>
<line x1="330.60" y1="458.58" x2="332.80" y2="458.58" stroke="#1e1e1e" stroke-width="0.8"/>
<text x="327.40" y="458.58" dy="0.35em" font-size="6.6" text-anchor="end" fill="#262626">30</text>
<line x1="330.60" y1="440.70" x2="332.80" y2="440.70" stroke="#1e1e1e" stroke-width="0.8"/>
<text x="327.40" y="440.70" dy="0.35em" font-size="6.6" text-anchor="end" fill="#262626">40</text>
<line x1="332.30" y1="512.20" x2="439.60" y2="512.20" stroke="#1e1e1e" stroke-width="1.1"/>
<line x1="344.20" y1="512.20" x2="344.20" y2="514.50" stroke="#1e1e1e" stroke-width="0.75"/>
<text x="344.20" y="520.90" dy="0.35em" font-size="5.6" text-anchor="middle" fill="#262626">–</text>
<line x1="361.28" y1="512.20" x2="361.28" y2="514.50" stroke="#1e1e1e" stroke-width="0.75"/>
<text x="361.28" y="520.90" dy="0.35em" font-size="5.6" text-anchor="middle" fill="#262626">+</text>
<line x1="378.36" y1="512.20" x2="378.36" y2="514.50" stroke="#1e1e1e" stroke-width="0.75"/>
<text x="378.36" y="520.90" dy="0.35em" font-size="5.6" text-anchor="middle" fill="#262626">–</text>
<line x1="395.44" y1="512.20" x2="395.44" y2="514.50" stroke="#1e1e1e" stroke-width="0.75"/>
<text x="395.44" y="520.90" dy="0.35em" font-size="5.6" text-anchor="middle" fill="#262626">+</text>
<line x1="412.52" y1="512.20" x2="412.52" y2="514.50" stroke="#1e1e1e" stroke-width="0.75"/>
<text x="412.52" y="520.90" dy="0.35em" font-size="5.6" text-anchor="middle" fill="#262626">–</text>
<line x1="429.60" y1="512.20" x2="429.60" y2="514.50" stroke="#1e1e1e" stroke-width="0.75"/>
<text x="429.60" y="520.90" dy="0.35em" font-size="5.6" text-anchor="middle" fill="#262626">+</text>
<text x="326.80" y="521.60" dy="0.35em" font-size="6.4" text-anchor="end" fill="#262626">CB-103 (10μM)</text>
<line x1="341.50" y1="527.60" x2="367.40" y2="527.60" stroke="#222" stroke-width="1.15"/>
<text x="354.45" y="534.00" dy="0.35em" font-size="6.4" text-anchor="middle" fill="#262626">NT</text>
<line x1="376.20" y1="527.60" x2="402.00" y2="527.60" stroke="#222" stroke-width="1.15"/>
<text x="389.10" y="534.00" dy="0.35em" font-size="6.4" text-anchor="middle" fill="#262626">KO#2</text>
<line x1="409.60" y1="527.60" x2="436.20" y2="527.60" stroke="#222" stroke-width="1.15"/>
<text x="422.90" y="534.00" dy="0.35em" font-size="6.4" text-anchor="middle" fill="#262626">KO#3</text>
<text x="311.10" y="476.45" dy="0.35em" font-size="7.1" font-weight="normal" style="stroke-width:0.35px" text-anchor="middle" fill="#222" transform="rotate(-90 311.10 476.45)" textLength="52.3" lengthAdjust="spacingAndGlyphs">Cells in S phase (%)</text>
<polyline points="344.40,475.00 344.40,448.10 359.80,448.10 359.80,484.00" fill="none" stroke="#333" stroke-width="0.95"/>
<rect x="348.95" y="443.60" width="1.6" height="2.2" rx="0.5" fill="#484848"/>
<rect x="351.30" y="443.60" width="1.6" height="2.2" rx="0.5" fill="#484848"/>
<rect x="353.65" y="443.60" width="1.6" height="2.2" rx="0.5" fill="#484848"/>
<polyline points="362.70,484.00 362.70,448.10 396.10,448.10 396.10,462.90" fill="none" stroke="#333" stroke-width="0.95"/>
<rect x="375.07" y="443.60" width="1.6" height="2.2" rx="0.5" fill="#484848"/>
<rect x="377.42" y="443.60" width="1.6" height="2.2" rx="0.5" fill="#484848"/>
<rect x="379.77" y="443.60" width="1.6" height="2.2" rx="0.5" fill="#484848"/>
<rect x="382.12" y="443.60" width="1.6" height="2.2" rx="0.5" fill="#484848"/>
<polyline points="361.40,441.00 361.40,432.70 430.60,432.70 430.60,466.40" fill="none" stroke="#333" stroke-width="0.95"/>
<rect x="391.68" y="428.20" width="1.6" height="2.2" rx="0.5" fill="#484848"/>
<rect x="394.02" y="428.20" width="1.6" height="2.2" rx="0.5" fill="#484848"/>
<rect x="396.38" y="428.20" width="1.6" height="2.2" rx="0.5" fill="#484848"/>
<rect x="398.72" y="428.20" width="1.6" height="2.2" rx="0.5" fill="#484848"/>
<rect x="158.20" y="642.40" width="10.6" height="4.90" fill="#cbccd4"/>
<rect x="174.90" y="588.01" width="10.6" height="59.29" fill="#959aa8"/>
<rect x="191.60" y="641.49" width="10.6" height="5.81" fill="#f1c3b9"/>
<rect x="208.30" y="638.20" width="10.6" height="9.10" fill="#e08a7e"/>
<rect x="225.00" y="645.20" width="10.6" height="2.10" fill="#fde3c7"/>
<rect x="241.70" y="603.55" width="10.6" height="43.75" fill="#fabd77"/>
<line x1="163.50" y1="641.00" x2="163.50" y2="643.45" stroke="#2c3650" stroke-width="0.75"/>
<line x1="161.10" y1="641.00" x2="165.90" y2="641.00" stroke="#2c3650" stroke-width="0.75"/>
<line x1="161.10" y1="643.45" x2="165.90" y2="643.45" stroke="#2c3650" stroke-width="0.75"/>
<circle cx="159.50" cy="641.49" r="1.3" fill="#2c3650"/>
<circle cx="163.50" cy="639.81" r="1.3" fill="#2c3650"/>
<circle cx="167.50" cy="641.49" r="1.3" fill="#2c3650"/>
<line x1="180.20" y1="583.81" x2="180.20" y2="588.36" stroke="#2c3650" stroke-width="0.75"/>
<line x1="177.80" y1="583.81" x2="182.60" y2="583.81" stroke="#2c3650" stroke-width="0.75"/>
<line x1="177.80" y1="588.36" x2="182.60" y2="588.36" stroke="#2c3650" stroke-width="0.75"/>
<circle cx="176.20" cy="588.01" r="1.3" fill="#2c3650"/>
<circle cx="180.20" cy="584.79" r="1.3" fill="#2c3650"/>
<circle cx="184.20" cy="588.01" r="1.3" fill="#2c3650"/>
<line x1="196.90" y1="640.79" x2="196.90" y2="641.84" stroke="#b8122c" stroke-width="0.75"/>
<line x1="194.50" y1="640.79" x2="199.30" y2="640.79" stroke="#b8122c" stroke-width="0.75"/>
<line x1="194.50" y1="641.84" x2="199.30" y2="641.84" stroke="#b8122c" stroke-width="0.75"/>
<circle cx="192.90" cy="640.93" r="1.3" fill="#b8122c"/>
<circle cx="196.90" cy="639.81" r="1.3" fill="#b8122c"/>
<circle cx="200.90" cy="640.93" r="1.3" fill="#b8122c"/>
<line x1="213.60" y1="638.06" x2="213.60" y2="638.34" stroke="#b8122c" stroke-width="0.75"/>
<line x1="211.20" y1="638.06" x2="216.00" y2="638.06" stroke="#b8122c" stroke-width="0.75"/>
<line x1="211.20" y1="638.34" x2="216.00" y2="638.34" stroke="#b8122c" stroke-width="0.75"/>
<circle cx="209.60" cy="638.20" r="1.3" fill="#b8122c"/>
<circle cx="213.60" cy="638.06" r="1.3" fill="#b8122c"/>
<circle cx="217.60" cy="638.20" r="1.3" fill="#b8122c"/>
<circle cx="226.30" cy="645.20" r="1.3" fill="#f0a52a"/>
<circle cx="230.30" cy="645.20" r="1.3" fill="#f0a52a"/>
<circle cx="234.30" cy="645.20" r="1.3" fill="#f0a52a"/>
<line x1="247.00" y1="601.45" x2="247.00" y2="606.00" stroke="#f0a52a" stroke-width="0.75"/>
<line x1="244.60" y1="601.45" x2="249.40" y2="601.45" stroke="#f0a52a" stroke-width="0.75"/>
<line x1="244.60" y1="606.00" x2="249.40" y2="606.00" stroke="#f0a52a" stroke-width="0.75"/>
<circle cx="243.20" cy="601.94" r="1.3" fill="#f0a52a"/>
<circle cx="250.80" cy="602.29" r="1.3" fill="#f0a52a"/>
<circle cx="247.00" cy="606.14" r="1.3" fill="#f0a52a"/>
<line x1="152.30" y1="574.90" x2="152.30" y2="647.80" stroke="#1e1e1e" stroke-width="1.1"/>
<line x1="150.10" y1="647.30" x2="152.30" y2="647.30" stroke="#1e1e1e" stroke-width="0.8"/>
<text x="145.60" y="647.30" dy="0.35em" font-size="6.6" text-anchor="end" fill="#262626">0</text>
<line x1="150.10" y1="633.30" x2="152.30" y2="633.30" stroke="#1e1e1e" stroke-width="0.8"/>
<text x="146.90" y="633.30" dy="0.35em" font-size="6.6" text-anchor="end" fill="#262626">20</text>
<line x1="150.10" y1="619.30" x2="152.30" y2="619.30" stroke="#1e1e1e" stroke-width="0.8"/>
<text x="146.90" y="619.30" dy="0.35em" font-size="6.6" text-anchor="end" fill="#262626">40</text>
<line x1="150.10" y1="605.30" x2="152.30" y2="605.30" stroke="#1e1e1e" stroke-width="0.8"/>
<text x="146.90" y="605.30" dy="0.35em" font-size="6.6" text-anchor="end" fill="#262626">60</text>
<line x1="150.10" y1="591.30" x2="152.30" y2="591.30" stroke="#1e1e1e" stroke-width="0.8"/>
<text x="146.90" y="591.30" dy="0.35em" font-size="6.6" text-anchor="end" fill="#262626">80</text>
<line x1="150.10" y1="577.30" x2="152.30" y2="577.30" stroke="#1e1e1e" stroke-width="0.8"/>
<text x="146.90" y="577.30" dy="0.35em" font-size="6.6" text-anchor="end" fill="#262626">100</text>
<line x1="151.80" y1="647.30" x2="258.30" y2="647.30" stroke="#1e1e1e" stroke-width="1.1"/>
<line x1="163.50" y1="647.30" x2="163.50" y2="649.60" stroke="#1e1e1e" stroke-width="0.75"/>
<text x="163.50" y="656.00" dy="0.35em" font-size="5.6" text-anchor="middle" fill="#262626">–</text>
<line x1="180.20" y1="647.30" x2="180.20" y2="649.60" stroke="#1e1e1e" stroke-width="0.75"/>
<text x="180.20" y="656.00" dy="0.35em" font-size="5.6" text-anchor="middle" fill="#262626">+</text>
<line x1="196.90" y1="647.30" x2="196.90" y2="649.60" stroke="#1e1e1e" stroke-width="0.75"/>
<text x="196.90" y="656.00" dy="0.35em" font-size="5.6" text-anchor="middle" fill="#262626">–</text>
<line x1="213.60" y1="647.30" x2="213.60" y2="649.60" stroke="#1e1e1e" stroke-width="0.75"/>
<text x="213.60" y="656.00" dy="0.35em" font-size="5.6" text-anchor="middle" fill="#262626">+</text>
<line x1="230.30" y1="647.30" x2="230.30" y2="649.60" stroke="#1e1e1e" stroke-width="0.75"/>
<text x="230.30" y="656.00" dy="0.35em" font-size="5.6" text-anchor="middle" fill="#262626">–</text>
<line x1="247.00" y1="647.30" x2="247.00" y2="649.60" stroke="#1e1e1e" stroke-width="0.75"/>
<text x="247.00" y="656.00" dy="0.35em" font-size="5.6" text-anchor="middle" fill="#262626">+</text>
<text x="146.20" y="656.70" dy="0.35em" font-size="6.4" text-anchor="end" fill="#262626">CB-103 (10μM)</text>
<line x1="158.10" y1="662.30" x2="184.60" y2="662.30" stroke="#222" stroke-width="1.15"/>
<text x="171.35" y="668.80" dy="0.35em" font-size="6.4" text-anchor="middle" fill="#262626">NT</text>
<line x1="192.20" y1="662.30" x2="218.80" y2="662.30" stroke="#222" stroke-width="1.15"/>
<text x="205.50" y="668.80" dy="0.35em" font-size="6.4" text-anchor="middle" fill="#262626">KO#1</text>
<line x1="225.70" y1="662.30" x2="251.50" y2="662.30" stroke="#222" stroke-width="1.15"/>
<text x="238.60" y="668.80" dy="0.35em" font-size="6.4" text-anchor="middle" fill="#262626">KO#4</text>
<text x="127.40" y="611.40" dy="0.35em" font-size="7.1" font-weight="normal" style="stroke-width:0.35px" text-anchor="middle" fill="#222" transform="rotate(-90 127.40 611.40)" textLength="49.0" lengthAdjust="spacingAndGlyphs">Apoptotic cells (%)</text>
<polyline points="163.75,637.30 163.75,576.80 179.00,576.80 179.00,580.60" fill="none" stroke="#333" stroke-width="0.95"/>
<rect x="167.05" y="572.30" width="1.6" height="2.2" rx="0.5" fill="#484848"/>
<rect x="169.40" y="572.30" width="1.6" height="2.2" rx="0.5" fill="#484848"/>
<rect x="171.75" y="572.30" width="1.6" height="2.2" rx="0.5" fill="#484848"/>
<rect x="174.10" y="572.30" width="1.6" height="2.2" rx="0.5" fill="#484848"/>
<polyline points="181.30,580.60 181.30,576.80 213.50,576.80 213.50,635.60" fill="none" stroke="#333" stroke-width="0.95"/>
<rect x="193.07" y="572.30" width="1.6" height="2.2" rx="0.5" fill="#484848"/>
<rect x="195.42" y="572.30" width="1.6" height="2.2" rx="0.5" fill="#484848"/>
<rect x="197.78" y="572.30" width="1.6" height="2.2" rx="0.5" fill="#484848"/>
<rect x="200.12" y="572.30" width="1.6" height="2.2" rx="0.5" fill="#484848"/>
<polyline points="180.00,566.30 180.00,562.50 246.85,562.50 246.85,600.80" fill="none" stroke="#333" stroke-width="0.95"/>
<rect x="209.10" y="558.00" width="1.6" height="2.2" rx="0.5" fill="#484848"/>
<rect x="211.45" y="558.00" width="1.6" height="2.2" rx="0.5" fill="#484848"/>
<rect x="213.80" y="558.00" width="1.6" height="2.2" rx="0.5" fill="#484848"/>
<rect x="216.15" y="558.00" width="1.6" height="2.2" rx="0.5" fill="#484848"/>
<rect x="338.90" y="638.85" width="10.6" height="8.35" fill="#cbccd4"/>
<rect x="355.98" y="586.89" width="10.6" height="60.31" fill="#959aa8"/>
<rect x="373.06" y="624.04" width="10.6" height="23.16" fill="#c4cae3"/>
<rect x="390.14" y="619.74" width="10.6" height="27.46" fill="#8393c0"/>
<rect x="407.22" y="635.08" width="10.6" height="12.12" fill="#d9c1db"/>
<rect x="424.30" y="634.63" width="10.6" height="12.57" fill="#a582ae"/>
<line x1="344.20" y1="637.51" x2="344.20" y2="639.75" stroke="#2c3650" stroke-width="0.75"/>
<line x1="341.80" y1="637.51" x2="346.60" y2="637.51" stroke="#2c3650" stroke-width="0.75"/>
<line x1="341.80" y1="639.75" x2="346.60" y2="639.75" stroke="#2c3650" stroke-width="0.75"/>
<circle cx="340.40" cy="636.25" r="1.3" fill="#2c3650"/>
<circle cx="348.20" cy="637.15" r="1.3" fill="#2c3650"/>
<line x1="361.28" y1="580.61" x2="361.28" y2="587.34" stroke="#2c3650" stroke-width="0.75"/>
<line x1="358.88" y1="580.61" x2="363.68" y2="580.61" stroke="#2c3650" stroke-width="0.75"/>
<line x1="358.88" y1="587.34" x2="363.68" y2="587.34" stroke="#2c3650" stroke-width="0.75"/>
<circle cx="357.28" cy="587.07" r="1.3" fill="#2c3650"/>
<circle cx="361.28" cy="583.75" r="1.3" fill="#2c3650"/>
<circle cx="365.28" cy="587.07" r="1.3" fill="#2c3650"/>
<line x1="378.36" y1="617.76" x2="378.36" y2="624.49" stroke="#22305a" stroke-width="0.75"/>
<line x1="375.96" y1="617.76" x2="380.76" y2="617.76" stroke="#22305a" stroke-width="0.75"/>
<line x1="375.96" y1="624.49" x2="380.76" y2="624.49" stroke="#22305a" stroke-width="0.75"/>
<circle cx="374.36" cy="624.04" r="1.3" fill="#22305a"/>
<circle cx="378.36" cy="620.81" r="1.3" fill="#22305a"/>
<circle cx="382.36" cy="624.04" r="1.3" fill="#22305a"/>
<line x1="395.44" y1="614.98" x2="395.44" y2="625.57" stroke="#22305a" stroke-width="0.75"/>
<line x1="393.04" y1="614.98" x2="397.84" y2="614.98" stroke="#22305a" stroke-width="0.75"/>
<line x1="393.04" y1="625.57" x2="397.84" y2="625.57" stroke="#22305a" stroke-width="0.75"/>
<circle cx="391.44" cy="617.04" r="1.3" fill="#22305a"/>
<circle cx="399.44" cy="617.04" r="1.3" fill="#22305a"/>
<circle cx="395.44" cy="625.39" r="1.3" fill="#22305a"/>
<line x1="412.52" y1="632.39" x2="412.52" y2="635.98" stroke="#3e2050" stroke-width="0.75"/>
<line x1="410.12" y1="632.39" x2="414.92" y2="632.39" stroke="#3e2050" stroke-width="0.75"/>
<line x1="410.12" y1="635.98" x2="414.92" y2="635.98" stroke="#3e2050" stroke-width="0.75"/>
<circle cx="408.52" cy="632.39" r="1.3" fill="#3e2050"/>
<circle cx="412.52" cy="634.63" r="1.3" fill="#3e2050"/>
<circle cx="416.52" cy="633.47" r="1.3" fill="#3e2050"/>
<line x1="429.60" y1="632.39" x2="429.60" y2="635.53" stroke="#3e2050" stroke-width="0.75"/>
<line x1="427.20" y1="632.39" x2="432.00" y2="632.39" stroke="#3e2050" stroke-width="0.75"/>
<line x1="427.20" y1="635.53" x2="432.00" y2="635.53" stroke="#3e2050" stroke-width="0.75"/>
<circle cx="425.60" cy="633.29" r="1.3" fill="#3e2050"/>
<circle cx="429.60" cy="633.74" r="1.3" fill="#3e2050"/>
<circle cx="433.60" cy="634.19" r="1.3" fill="#3e2050"/>
<line x1="332.80" y1="573.00" x2="332.80" y2="647.70" stroke="#1e1e1e" stroke-width="1.1"/>
<line x1="330.60" y1="647.20" x2="332.80" y2="647.20" stroke="#1e1e1e" stroke-width="0.8"/>
<text x="326.10" y="647.20" dy="0.35em" font-size="6.6" text-anchor="end" fill="#262626">0</text>
<line x1="330.60" y1="629.25" x2="332.80" y2="629.25" stroke="#1e1e1e" stroke-width="0.8"/>
<text x="327.40" y="629.25" dy="0.35em" font-size="6.6" text-anchor="end" fill="#262626">20</text>
<line x1="330.60" y1="611.30" x2="332.80" y2="611.30" stroke="#1e1e1e" stroke-width="0.8"/>
<text x="327.40" y="611.30" dy="0.35em" font-size="6.6" text-anchor="end" fill="#262626">40</text>
<line x1="330.60" y1="593.35" x2="332.80" y2="593.35" stroke="#1e1e1e" stroke-width="0.8"/>
<text x="327.40" y="593.35" dy="0.35em" font-size="6.6" text-anchor="end" fill="#262626">60</text>
<line x1="330.60" y1="575.40" x2="332.80" y2="575.40" stroke="#1e1e1e" stroke-width="0.8"/>
<text x="327.40" y="575.40" dy="0.35em" font-size="6.6" text-anchor="end" fill="#262626">80</text>
<line x1="332.30" y1="647.20" x2="439.60" y2="647.20" stroke="#1e1e1e" stroke-width="1.1"/>
<line x1="344.20" y1="647.20" x2="344.20" y2="649.50" stroke="#1e1e1e" stroke-width="0.75"/>
<text x="344.20" y="655.90" dy="0.35em" font-size="5.6" text-anchor="middle" fill="#262626">–</text>
<line x1="361.28" y1="647.20" x2="361.28" y2="649.50" stroke="#1e1e1e" stroke-width="0.75"/>
<text x="361.28" y="655.90" dy="0.35em" font-size="5.6" text-anchor="middle" fill="#262626">+</text>
<line x1="378.36" y1="647.20" x2="378.36" y2="649.50" stroke="#1e1e1e" stroke-width="0.75"/>
<text x="378.36" y="655.90" dy="0.35em" font-size="5.6" text-anchor="middle" fill="#262626">–</text>
<line x1="395.44" y1="647.20" x2="395.44" y2="649.50" stroke="#1e1e1e" stroke-width="0.75"/>
<text x="395.44" y="655.90" dy="0.35em" font-size="5.6" text-anchor="middle" fill="#262626">+</text>
<line x1="412.52" y1="647.20" x2="412.52" y2="649.50" stroke="#1e1e1e" stroke-width="0.75"/>
<text x="412.52" y="655.90" dy="0.35em" font-size="5.6" text-anchor="middle" fill="#262626">–</text>
<line x1="429.60" y1="647.20" x2="429.60" y2="649.50" stroke="#1e1e1e" stroke-width="0.75"/>
<text x="429.60" y="655.90" dy="0.35em" font-size="5.6" text-anchor="middle" fill="#262626">+</text>
<text x="327.50" y="656.60" dy="0.35em" font-size="6.4" text-anchor="end" fill="#262626">CB-103 (0.5μM)</text>
<line x1="341.10" y1="662.10" x2="366.90" y2="662.10" stroke="#222" stroke-width="1.15"/>
<text x="354.00" y="668.70" dy="0.35em" font-size="6.4" text-anchor="middle" fill="#262626">NT</text>
<line x1="375.70" y1="662.10" x2="402.00" y2="662.10" stroke="#222" stroke-width="1.15"/>
<text x="388.85" y="668.70" dy="0.35em" font-size="6.4" text-anchor="middle" fill="#262626">KO#2</text>
<line x1="409.60" y1="662.10" x2="435.70" y2="662.10" stroke="#222" stroke-width="1.15"/>
<text x="422.65" y="668.70" dy="0.35em" font-size="6.4" text-anchor="middle" fill="#262626">KO#3</text>
<text x="311.30" y="611.30" dy="0.35em" font-size="7.1" font-weight="normal" style="stroke-width:0.35px" text-anchor="middle" fill="#222" transform="rotate(-90 311.30 611.30)" textLength="50.0" lengthAdjust="spacingAndGlyphs">Apoptotic cells (%)</text>
<polyline points="344.30,631.20 344.30,572.50 359.80,572.50 359.80,576.50" fill="none" stroke="#333" stroke-width="0.95"/>
<rect x="347.73" y="568.00" width="1.6" height="2.2" rx="0.5" fill="#484848"/>
<rect x="350.07" y="568.00" width="1.6" height="2.2" rx="0.5" fill="#484848"/>
<rect x="352.43" y="568.00" width="1.6" height="2.2" rx="0.5" fill="#484848"/>
<rect x="354.77" y="568.00" width="1.6" height="2.2" rx="0.5" fill="#484848"/>
<polyline points="362.50,576.50 362.50,572.50 395.00,572.50 395.00,613.40" fill="none" stroke="#333" stroke-width="0.95"/>
<rect x="374.43" y="568.00" width="1.6" height="2.2" rx="0.5" fill="#484848"/>
<rect x="376.77" y="568.00" width="1.6" height="2.2" rx="0.5" fill="#484848"/>
<rect x="379.12" y="568.00" width="1.6" height="2.2" rx="0.5" fill="#484848"/>
<rect x="381.47" y="568.00" width="1.6" height="2.2" rx="0.5" fill="#484848"/>
<polyline points="361.40,562.00 361.40,557.90 429.80,557.90 429.80,631.30" fill="none" stroke="#333" stroke-width="0.95"/>
<rect x="391.28" y="553.40" width="1.6" height="2.2" rx="0.5" fill="#484848"/>
<rect x="393.62" y="553.40" width="1.6" height="2.2" rx="0.5" fill="#484848"/>
<rect x="395.98" y="553.40" width="1.6" height="2.2" rx="0.5" fill="#484848"/>
<rect x="398.32" y="553.40" width="1.6" height="2.2" rx="0.5" fill="#484848"/>
</g>
<rect x="0" y="0" width="520" height="1" fill="#5a5a5a"/>
<rect x="0" y="0" width="1" height="680" fill="#555"/>
<rect x="519" y="0" width="1" height="680" fill="#5a5a5a"/>
<rect x="518" y="0" width="1" height="680" fill="#bdbdbd"/>
<rect x="0" y="679" width="520" height="1" fill="#3a3a3a"/>
<rect x="0" y="678" width="520" height="1" fill="#a0a0a0"/>
</svg>
</body></html>
